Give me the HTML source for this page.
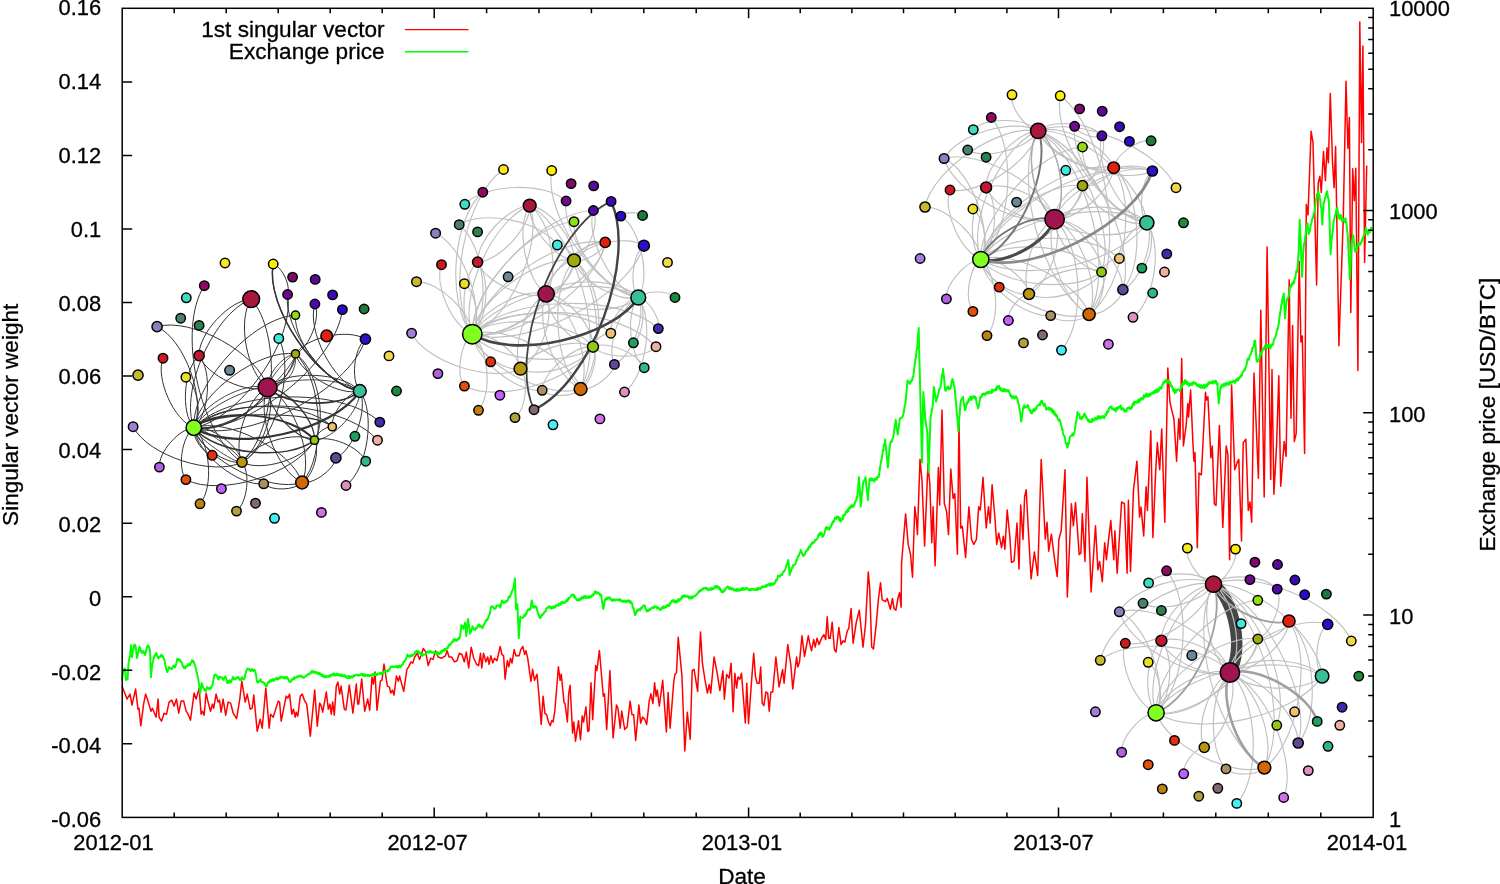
<!DOCTYPE html><html><head><meta charset="utf-8"><title>Singular vector weight vs exchange price</title>
<style>html,body{margin:0;padding:0;background:#fff}svg{display:block}text{font-family:"Liberation Sans",Arial,Helvetica,sans-serif;font-size:22.6px;fill:#000;stroke:#000;stroke-width:0.3px}</style></head><body>
<svg width="1500" height="884" viewBox="0 0 1500 884">
<rect width="1500" height="884" fill="#fff"/>
<g id="series">
<polyline points="122,686.1 127,699.1 130,694.1 132,705.1 135.6,689.1 138,709.2 139,708.2 140.8,725.8 143.6,704.1 145.6,694.1 148,701.1 151,711.2 152.4,708.2 156.1,717.2 158.1,699.1 159.1,717.2 161.5,721.2 164.1,713.2 166.5,714.2 169.1,702.1 171.7,700.1 174.1,706.1 176.5,699.1 178.7,713.2 181.1,701.1 183.7,701.1 186.1,711.2 188.1,714.2 190.5,720.2 194.1,693.1 196.1,699.1 199.1,688.1 201.1,714.2 202.5,711.2 204.1,715.2 206.1,693.1 208.1,702.1 210.5,711.2 212.5,704.1 213.7,708.2 216.1,694.1 218.1,702.1 219.5,700.1 221.1,712.2 223.1,699.1 225.7,715.2 228.2,702.1 230.6,703.1 233.2,713.2 236.6,718.6 239.8,699.1 241.8,681.1 245.2,702.1 247.2,694.1 250.2,709.2 252.2,708.2 253.8,695.1 257.2,731.2 260.2,719.2 262.2,728.2 265.8,688.1 269.2,728.2 270.6,714.2 273.2,717.2 278.2,701.1 279.6,702.1 281.2,721.2 286.2,696.1 287.8,698.1 289.6,694.1 291.8,714.2 293.4,709.2 295.2,717.2 296.2,712.2 297.8,716.2 300.3,696.1 302.3,694.1 304.3,700.1 306.7,704.1 310.3,736.2 314.7,690.1 317.3,726.2 319.7,703.1 321.3,706.1 322.7,712.2 326.3,692.1 328.3,709.2 329.9,704.1 331.3,714.2 332.7,702.1 334.3,715.2 336.3,686.1 337.9,682.1 339.7,694.1 341.1,686.1 344.3,709.2 345.9,710.2 349.3,685.1 352.9,713.2 356.3,684.1 357.7,704.1 358.7,704.1 361.7,679.1 364.7,711.2 367.7,699.1 369.7,710.2 372,677.1 373.4,684.1 375,672.1 377,710.2 380.4,681.1 382,680.1 384,664.1 387.4,686.1 389.4,687.1 390.8,693.1 392.4,690.1 394,695.1 396.4,676.1 398.4,681.1 399.6,676.1 403.7,691.4 406.9,669.3 408.6,666.8 411,661.9 412.8,663.1 414.7,657 417.2,653.3 419.6,659.4 423.3,648.4 425.8,652.1 428.2,665.6 430.7,658.2 433.1,659.4 435.6,650.8 438.1,657 441.7,658.2 445.4,655.8 447.1,650.8 449.1,657 451.6,657 454.5,661.9 457,660.7 459.4,653.3 461.9,654.5 464.3,661.9 466.3,652.1 468.7,668 471.2,647.2 473.7,658.2 476.6,664.3 478.6,665.6 480.5,653.3 481.8,668 483.5,653.3 485.9,661.9 487.7,657 489.1,664.3 490.8,655.8 492.8,663.1 494.5,658.2 497,660.7 500.2,646.4 501.9,654.5 503.6,655.8 505.1,679.1 507.3,660.7 508.8,666.8 510.5,658.2 512,663.1 514.2,649.6 515.9,655.8 519.1,655.8 520.8,649.6 522.8,646.4 524.7,654.5 526,650.8 527.7,658.2 530.9,681.5 532.6,669.3 534.5,680.3 537,674.2 538.7,692.6 541.2,724.5 543.1,696.3 544.9,713.4 546.6,714.7 548.5,722 550.3,725.7 551.7,720.8 553,722 554.7,712.2 558.4,666.8 560.1,680.3 561.3,674.2 564,702.4 565,703.6 567.4,722 568.7,693.8 570.1,685.2 572.6,733.1 573.8,722 575.5,741.2 578.5,720.8 580.5,739.7 582.2,715.9 583.6,722 585.9,706.8 587.8,731.4 589,730.6 591,682.8 592.7,719.6 595.7,665.6 596.9,670.5 599.4,650.4 603.3,696.3 604.5,693.8 606.7,729.4 609.9,670.5 613.1,738 616.5,704.9 618,708.5 620.2,728.2 621.7,711 624.7,729.4 627.1,727 630.1,701.2 632,714.7 633.7,714.7 635.7,740.5 638.9,704.9 640.6,723.3 642.6,717.1 644.8,719.6 646.7,724.5 649.2,701.2 650.9,693.8 652.9,703.6 654.6,682.8 656.1,696.3 657.3,690.1 659.3,706.1 662.7,680.3 666.4,731.9 668.1,692.6 670.1,728.2 673.8,681.5 675,674.2 676.5,672.9 678.2,637.3 681.9,675.4 684.8,751 687.3,712.2 690.2,739.2 692.2,670.5 694.1,669.3 697.6,691.4 700.5,632.1 702.4,663.2 704.9,679.4 707.4,693.1 709.2,684.4 710.7,693.1 714.1,657 717.4,674.4 719.9,690.6 722.9,670.7 724.4,699.3 726.6,674.4 729.1,678.2 731.1,663.2 733.1,711.8 734.8,673.2 736.6,688.1 738,676.9 739.8,679.4 741.5,673.2 745.3,723 746.8,683.2 748.5,723.7 751.5,681.9 753.7,653.3 755.5,676.9 757.2,683.2 759.2,683.2 760.7,667 762.2,703.1 763.9,705.6 765.9,691.9 767.7,693.1 769.2,711.3 770.9,691.9 772.7,691.9 775.9,657 779.1,686.9 782.6,669.5 784.1,683.2 787.8,644.6 790.8,664.5 792.8,688.9 796.6,657 797.8,667 799.5,662 802,635.8 804.5,656.5 808.3,635.8 810,644.6 811.5,650.8 813.7,639.6 815.2,647.1 817,638.3 819,644.6 821.5,638.3 823.9,634.6 825.7,639.6 827.2,616.7 828.7,638.3 830.2,638.3 832.2,622.2 834.4,649.5 836.1,652 838.9,627.6 841.1,644.6 843.1,640.8 844.9,642.1 847.3,630.9 848.8,628.4 851.1,608.5 853.1,643.3 856.3,622.2 859.3,610.2 863,647.1 865.5,624.6 868.3,571.9 869.7,588.5 871.7,647.1 873.5,649 876.2,624.6 878.5,598.5 880.5,582.8 882.2,599.8 885.4,601.7 887.2,598.5 890.4,609.2 892.4,598.5 894.1,608.5 895.9,610.2 897.9,598.5 899.6,592.8 901.1,607.2 901.6,562.5 905.6,513.9 908.2,544.4 910.5,554.3 912.5,577.2 914.8,506.7 916.4,519.8 917.4,534.6 920,459.2 922,480.5 924.6,546.1 927.9,464.1 929.8,483.8 931.8,542.8 933.1,506.7 935.1,565.7 938.4,467.4 939.7,505.1 942,410 944.3,503.4 946.6,511.6 948.5,534.6 950.8,469 953.1,498.5 954.8,493.6 957.4,554.3 959,422.1 960.7,528 962.3,526.4 965.6,557.5 968.9,506.7 971.5,539.5 973.8,544.4 976.4,539.5 978.7,506.7 980.3,510 983,477.2 986.2,528 988.5,506.7 990.2,523.1 992.1,484.8 995.1,519.8 996.7,544.4 998.7,533 1001.6,547.7 1003.3,536.2 1004.9,549.3 1007.2,510 1009.8,536.2 1011.5,562.5 1014.1,560.8 1017,523.1 1019,569 1020.7,505.1 1023,539.5 1024.6,496.9 1026.2,489.7 1028.5,533 1031.1,578.9 1034.4,552 1037.7,575.6 1041.2,459.5 1045.3,539.3 1047,522.3 1048.7,551.2 1051.4,534.2 1054.4,558 1057.2,576.6 1058.9,539.3 1061.2,530.8 1065,469.7 1067.3,597 1071.4,503.7 1073.4,525.7 1075.5,502.6 1079.2,554.6 1080.9,552.9 1082.3,513.8 1085,561.4 1087,477.2 1091.1,591.9 1095.5,525.7 1097.9,569.9 1099.6,561.4 1102.3,581.7 1104.7,542.7 1106.4,559.7 1108.8,537.6 1110.8,520.6 1113.8,559.7 1114.9,530.8 1117.2,573.3 1121.6,502 1124.4,503.7 1127.1,573.3 1128.4,500.3 1130.5,571.6 1133.5,490.1 1136.9,461.2 1139.6,517.2 1141,507.1 1143.7,535.9 1146.1,486.7 1147.4,510.5 1150.8,430.7 1152.9,537.6 1155.6,473.1 1157.3,442.6 1159.7,469.7 1161.7,429 1164.8,522.3 1167.8,367.9 1169.9,401.8 1172.6,413.7 1173.9,418.8 1176.6,461.2 1178.7,418.8 1180,439.2 1181.7,358.4 1183.4,446 1186.1,425.6 1187.8,403.5 1188.5,417.1 1190.6,390 1192.9,442.6 1194,461.2 1195,452.7 1197.3,547.8 1199,473.1 1201.4,474.8 1205.5,392.3 1206.5,400.1 1207.9,396.7 1210.9,457.8 1212.3,446 1214.3,503.7 1216,505.4 1219.4,425.6 1222.8,527.4 1226.2,446 1227.9,454.4 1229.6,559.7 1231.6,384.9 1234.7,469.7 1237.7,461.2 1238.8,459.5 1241.5,541 1243.2,442.6 1245.9,439.2 1248.3,510.5 1250,502 1251.7,522.3 1254,373 1258.4,478.2 1260.8,310.2 1264.2,496.9 1267.1,247 1270.7,479.4 1272,369.5 1273.9,494.3 1276.6,444.1 1278.8,375.7 1280.7,486.2 1284.2,441.4 1286.1,456.3 1289.2,279.8 1291,418.3 1292.6,325.5 1294.3,441.4 1296.2,433.3 1299.2,261.3 1300.9,342.1 1302.3,336.1 1304.6,453.6 1306.3,204.4 1308,215 1311.1,131.2 1313,142.6 1316.6,285 1318.2,183 1319.9,176.3 1321.3,192.5 1323.5,151.4 1325.4,180.6 1327,147.8 1328.4,162.8 1330.3,93.4 1332.5,161.6 1334.1,187.7 1335.6,146.6 1338.9,345.7 1343.2,221 1346,81.3 1347.9,148.5 1349.4,117.6 1350.8,312.4 1352.7,168.7 1354.3,200.8 1355.8,168.3 1357.9,370.6 1359.8,21.9 1361.5,142.6 1362.9,45.9 1364.6,262.5 1366.7,165.6" fill="none" stroke="#ff0000" stroke-width="1.5" stroke-linejoin="round" stroke-linecap="butt"/>
<polyline points="122,680.1 122.5,676.4 123.1,672.6 123.6,670.1 124.1,670.1 124.5,668.4 125,669.1 125.5,674.7 126,680.1 126.5,679.5 127.1,678.4 127.6,679.1 128.4,664.1 128.9,661.4 129.5,657.6 130,656.1 130.5,650.4 131,645.1 131.5,650 132,657.1 132.5,653.1 133,650.9 133.5,648.9 134,645.1 134.6,644.5 135.1,645.1 135.6,646.1 136.1,650.4 136.6,655.2 137,658.1 137.5,656 138,653.3 138.5,652.5 139,649.1 139.5,647 140,647.1 140.6,649.9 141.1,650.6 141.6,653.1 142.1,651.7 142.6,651.2 143.1,651.1 143.6,651.1 144.1,653.2 144.6,653 145,655.1 145.5,653.3 146,651.4 146.5,648.8 147,647.1 147.5,646.8 148,645.3 148.4,646.1 149,646.7 149.5,648.7 150,651.1 150.5,664.5 151,677.1 151.5,671.4 152,666.1 152.5,663.4 153,661.8 153.5,659.2 154,657.1 154.5,655.6 155,655.8 155.5,654.6 156.1,653.1 156.6,653.7 157.1,655.8 157.6,656.9 158.1,658.1 158.6,658.5 159.1,657.6 159.6,656.1 160.1,656.1 160.6,657 161.1,654.7 161.6,655.1 162.1,655.1 162.6,656.7 163.1,656.2 163.6,658.1 164.1,659.1 164.6,660.3 165.1,664.2 165.7,666.1 166.1,668.7 166.6,670.3 167.1,672.1 167.6,671.8 168.1,669.2 168.6,668.8 169.1,667.1 169.6,667.8 170.1,668.3 170.6,668.5 171.1,669.1 171.6,669.2 172.1,668.7 172.6,666.8 173.1,666.1 173.6,666.7 174.1,665.5 174.6,667.3 175.1,667.1 175.6,665.4 176.1,664.3 176.6,661.9 177.1,659.1 177.6,658.8 178.1,659.3 178.6,660.2 179.1,660.1 179.6,659.4 180.1,661 180.6,660.8 181.1,662.1 181.6,662.4 182.1,663.4 182.6,666.3 183.2,666 183.7,668.1 184.2,667.3 184.7,667.4 185.1,668.4 185.6,666.3 186.1,667.1 186.6,666.2 187.1,665.7 187.6,665.8 188.1,664.1 188.6,665.1 189.1,665.5 189.6,664.3 190.1,665.1 190.6,663.6 191.1,662.2 191.6,662.3 192.1,660.1 192.6,661.9 193.1,660.7 193.6,661.6 194.1,663.1 194.6,663.9 195.1,665.5 195.6,667.6 196.1,669.1 196.6,672 197.2,673.9 197.7,677.1 198.2,678.3 198.6,681.6 199.1,684.1 199.6,688.3 200.1,693.1 200.6,690 201.2,687.5 201.7,683.1 202.2,684.9 202.6,685.8 203.1,687.1 203.6,688.4 204.1,689.5 204.6,689.1 205.1,691.1 205.6,691.1 206.1,689.8 206.6,689 207.1,687.1 207.6,688.3 208.1,687.9 208.6,688.4 209.1,689.1 209.6,687.9 210.1,688.9 210.6,687.3 211.1,688.1 211.6,686.1 212.1,685.4 212.5,685.1 213.1,681.3 213.6,678.7 214.1,676.1 214.6,674.8 215.1,674.4 215.6,674.5 216.1,675.1 216.6,675.2 217.1,676.8 217.6,677 218.1,679.1 218.6,679.5 219.1,678.4 219.6,676.8 220.1,677.1 220.6,676.8 221.1,677.4 221.6,677.8 222.1,677.5 222.6,679.6 223.1,679.1 223.7,679.9 224.2,678.2 224.7,677.9 225.2,676.5 225.7,677.1 226.2,678.2 226.7,680.7 227.2,683.1 227.7,682.1 228.2,682.9 228.7,680.8 229.2,681.1 229.7,680.2 230.2,682.7 230.7,681.9 231.2,682.1 231.7,680 232.2,679.7 232.7,677.2 233.2,677.1 233.7,677.7 234.2,679.3 234.7,679.5 235.2,679.1 235.7,679.2 236.2,677.9 236.7,677.8 237.2,677 237.7,678.1 238.2,677.1 238.7,677.9 239.2,679.3 239.7,679 240.2,680.1 240.7,678.7 241.2,679.4 241.7,679 242.2,677.1 242.7,678.5 243.2,678.8 243.7,679.4 244.2,679.1 244.7,677.7 245.2,674.4 245.7,673.1 246.2,671.1 246.7,670.3 247.2,669 247.7,668.5 248.2,669.1 248.7,668.8 249.2,669 249.7,670.3 250.2,670.1 250.7,670.9 251.2,669.5 251.7,670.4 252.2,669.1 252.7,670.6 253.2,670.9 253.7,669.8 254.2,669.8 254.7,670.1 255.2,671.1 255.7,673.1 256.2,675.9 256.7,679.7 257.2,682.1 257.7,682.7 258.2,682.3 258.7,681.1 259.2,681.1 259.7,681.2 260.2,680.1 260.7,679.4 261.2,681.2 261.7,682.1 262.2,682.1 262.7,682.4 263.2,682.1 263.7,682.7 264.2,682.7 264.7,684.8 265.2,684.4 265.7,686.2 266.2,686.1 266.7,686.3 267.2,683.9 267.7,682.9 268.2,682.1 268.7,682.9 269.2,682.2 269.7,680.6 270.2,680.2 270.7,680 271.2,681.6 271.7,681.1 272.2,680.1 272.7,679.1 273.2,680.6 273.7,680.9 274.2,680 274.7,679.1 275.2,679.5 275.7,678.4 276.2,679.1 276.7,677.7 277.2,679.7 277.7,678.7 278.2,678.2 278.7,678.9 279.2,677.4 279.7,678.3 280.2,677.1 280.7,678 281.2,676.7 281.7,676.9 282.2,677.1 282.7,677.1 283.2,678.1 283.7,677.4 284.2,678.1 284.7,677.7 285.2,676.9 285.7,678.6 286.2,677.1 286.7,677.2 287.2,677.1 287.7,678.1 288.2,679.7 288.7,679.4 289.2,681.4 289.7,681.3 290.2,682.1 290.7,681.7 291.2,681.2 291.7,679.5 292.2,680 292.7,678.9 293.2,679.1 293.7,677.6 294.2,679.2 294.7,677.3 295.2,677.7 295.7,678 296.2,677.1 296.7,677.1 297.2,676.4 297.7,676.8 298.2,676.7 298.8,677.2 299.3,675.4 299.8,676.4 300.3,676.1 300.8,675.6 301.3,675.8 301.8,677.1 302.3,676.6 302.8,676.9 303.3,677.5 303.8,678 304.3,677.1 304.8,676.6 305.3,676.6 305.8,676 306.3,675.6 306.8,675.7 307.3,674.7 307.8,674.6 308.3,674.1 308.8,673.7 309.3,674.4 309.8,673.5 310.3,673.5 310.8,673.3 311.3,671.3 311.8,671.6 312.3,671.1 312.8,672.5 313.3,672.6 313.8,671.2 314.3,671.5 314.8,672.6 315.3,673.1 315.8,672.1 316.3,672.5 316.8,672.1 317.3,673.5 317.8,673.8 318.3,673.1 318.8,674.3 319.3,672.8 319.8,674.4 320.3,674.5 320.8,673.5 321.3,675.5 321.8,676 322.3,675.1 322.8,674.7 323.3,676.7 323.8,675.6 324.3,676.1 324.8,677.5 325.3,677.4 325.8,676 326.3,677.1 326.8,676.8 327.3,676.9 327.8,676.3 328.3,675.9 328.8,676 329.3,676.9 329.8,675.1 330.3,676.1 330.8,676 331.3,675.5 331.8,674.2 332.3,674.7 332.8,675.2 333.3,674.6 333.8,673.3 334.3,674.1 334.8,675.4 335.3,675 335.8,675.6 336.3,673.7 336.8,674.2 337.3,673.7 337.8,675.6 338.3,675.1 338.8,674.6 339.3,674.2 339.8,674.9 340.3,676.1 340.8,675.9 341.3,674.5 341.8,674.3 342.3,675.1 342.8,676.4 343.3,675.8 343.8,676.3 344.3,675.1 344.8,675.3 345.3,677.1 345.8,676.7 346.3,677.1 346.8,676.1 347.3,678.2 347.8,677.4 348.3,677.8 348.8,676.1 349.3,678 349.8,676.1 350.3,677.1 350.8,677.9 351.3,676.7 351.8,676.3 352.3,676.7 352.8,677.5 353.3,675.8 353.8,675.3 354.3,676.1 354.8,676.1 355.3,675.3 355.7,674.9 356.2,675 356.6,674.6 357.1,674.9 357.6,675.1 358,675 358.5,676 358.9,674.8 359.4,675.3 359.9,674.4 360.3,675.1 360.8,674.7 361.3,673.9 361.7,674.5 362.2,673.9 362.6,675.7 363.1,675.2 363.6,674.4 364,675 364.5,676.1 365,674.2 365.4,675.9 365.9,674.9 366.3,675.1 366.8,675.1 367.3,675.9 367.7,674.8 368.2,675.1 368.7,675.6 369.1,676.3 369.6,674.7 370,675.9 370.5,675.6 371,675.4 371.4,674.9 371.9,674.7 372.4,675.1 372.8,674 373.3,674.1 373.7,673.8 374.2,675.4 374.7,674.1 375.1,673.8 375.6,673.6 376.1,675.3 376.5,675.3 377,674.7 377.4,673.7 377.9,673.6 378.4,674.1 378.8,673.5 379.3,673.7 379.7,672.8 380.2,673.4 380.7,672.8 381.1,674.3 381.6,674.2 382.1,673 382.5,672.1 383,673.7 383.4,672 383.9,671.9 384.4,672.1 384.9,670.8 385.4,671.6 385.9,671.7 386.4,671.6 386.9,670.8 387.4,671.4 387.9,670 388.4,671.1 388.9,669.9 389.4,668.8 389.9,668.9 390.4,667.3 390.9,666.6 391.4,667.1 391.9,666.5 392.4,666.2 392.9,666.9 393.4,666.7 393.9,667.1 394.4,666.7 394.9,666.7 395.4,666.1 395.9,667.1 396.4,666.1 396.9,666.1 397.4,667.8 397.9,665.9 398.4,667.4 398.9,667.3 399.4,667.1 399.9,665.5 400.4,667 400.9,666.7 401.4,665.6 401.9,665.4 402.5,664.3 402.9,664.4 403.4,662 403.9,662.2 404.4,661.4 404.9,660.7 405.4,660.2 405.9,658.9 406.4,657.8 406.9,656 407.4,654.5 407.9,656 408.3,655.9 408.8,656.5 409.3,655.8 409.8,657 410.3,655.5 410.7,655.5 411.2,655.7 411.7,654.8 412.1,656.3 412.6,655.3 413,655.1 413.5,654.5 414,654.4 414.4,654 414.9,653.1 415.3,651.5 415.8,652.9 416.3,652.4 416.7,651.3 417.2,650.8 417.6,651.4 418.1,652.1 418.6,651.2 419,653.3 419.5,652.5 419.9,652.6 420.4,653.5 420.9,654.5 421.3,655.1 421.8,653.8 422.3,655.1 422.7,655.7 423.2,654.5 423.6,654.2 424.1,654.5 424.6,654.5 425,654.7 425.5,654.6 425.9,653.9 426.4,653.6 426.9,652 427.3,651.8 427.8,651.8 428.2,652.1 428.7,652.7 429.2,651.6 429.6,652.2 430.1,650.9 430.5,651 431,651.5 431.5,652.5 431.9,652.1 432.4,652.7 432.8,652.8 433.3,652 433.8,652.7 434.2,652.8 434.7,652.9 435.1,652.2 435.6,653.3 436.1,654.2 436.5,652.6 437,654.4 437.4,654.3 437.9,652.1 438.4,653.2 438.8,654.1 439.3,653.3 439.7,654.1 440.2,652.6 440.7,651.8 441.1,651.4 441.6,652.8 442,650.8 442.5,651.3 443,650.8 443.4,649.7 443.9,650.3 444.3,651 444.8,648.7 445.3,650.1 445.7,649 446.2,649.6 446.6,648.4 447.1,648.4 447.6,646.8 448,648 448.5,646.5 449,644.9 449.4,644.4 449.9,645.1 450.3,644.7 450.8,644 451.3,643 451.7,642 452.2,641.9 452.6,641.2 453.1,641.8 453.6,639.2 454,639.8 454.5,640.4 454.9,640.6 455.4,638.9 455.9,640.8 456.3,640.3 456.8,640.8 457.2,639.3 457.7,639.8 458.2,638.8 458.7,638.1 459.2,638.8 459.7,637.1 460.2,636.1 460.8,630.3 461.4,625.1 461.9,625.8 462.4,626.4 462.9,626.7 463.3,628.7 463.9,625.7 464.5,625.5 465.1,622.6 465.7,628.8 466.3,636.1 466.9,631.4 467.4,624.1 468,618.9 468.5,622 469,626.3 469.5,629.2 470,633.7 470.5,631.9 471,631.8 471.4,630.2 471.9,628.5 472.4,626.3 472.9,627.3 473.4,628.8 473.9,629.6 474.4,629.4 474.9,630 475.3,629.9 475.8,627.7 476.3,628.7 476.7,627.4 477.2,627.5 477.6,626.6 478.1,625.2 478.6,625.1 479,624.3 479.5,626.7 479.9,625.1 480.4,626.2 480.9,626.2 481.3,626.4 481.8,627.8 482.2,627.5 482.7,627.9 483.2,625.4 483.6,625.6 484.1,624 484.6,623.8 485,622.7 485.5,621.3 485.9,621.4 486.4,619.8 486.9,619.2 487.4,620.1 487.9,618.4 488.4,617.7 488.9,615.2 489.4,615 489.9,613.4 490.4,610.2 490.8,607.6 491.3,606.6 491.8,606.3 492.2,606.4 492.7,607.3 493.2,607.1 493.6,607.8 494.1,608.2 494.5,609.1 495,608.5 495.5,608.6 496,607.5 496.5,605.9 497,605.4 497.4,605.4 497.9,605.8 498.4,605.6 498.8,605.6 499.3,605.1 499.7,605.8 500.2,607.6 500.7,606.6 501.3,602.7 501.9,600.5 502.4,601 502.9,601.8 503.4,602.9 503.9,601.8 504.3,603 504.8,602 505.3,601.4 505.7,601.3 506.2,601 506.6,601.8 507.1,601 507.6,600.6 508,599.3 508.5,597.3 509,596.5 509.5,597.3 510,597 510.5,595.1 511,594.4 511.5,593.4 512,590.7 512.4,590.4 512.9,589.5 513.4,587.7 513.9,584.7 514.4,582 514.9,578.4 515.5,594.9 516.1,609.1 516.7,606 517.4,604.2 517.8,614.5 518.3,626 518.8,638.1 519.3,630.9 519.8,624.1 520.3,616.5 520.8,617.8 521.3,617.6 521.8,617.7 522.3,617.7 522.8,617.9 523.3,616.8 523.7,616.6 524.2,615 524.7,616.3 525.2,615.2 525.7,613.6 526.2,614.3 526.7,612.6 527.2,610.8 527.7,610.3 528.2,609.2 528.7,609.3 529.1,610 529.6,610 530.1,608.4 530.6,609.1 531.2,603.8 531.8,600.5 532.3,603 532.8,605.6 533.3,607.9 533.8,607.4 534.3,606.8 534.8,607.5 535.3,605.9 535.8,606.4 536.3,606.6 536.7,608.1 537.2,610.9 537.6,611.7 538.1,613.9 538.5,614.5 539,615.5 539.5,617.7 539.9,616.7 540.4,618 540.9,617 541.4,615.6 541.9,614.5 542.4,615.2 542.9,614.5 543.4,614.2 543.9,612.8 544.4,611.7 544.9,611.6 545.3,611.3 545.8,611.4 546.2,609.1 546.7,608 547.2,608.1 547.6,607.7 548.1,607.7 548.5,606.6 549,606.1 549.5,607.7 549.9,607.7 550.4,607.3 550.8,606.7 551.3,608.7 551.8,607.3 552.2,607.9 552.7,608.4 553.2,606.7 553.7,606.5 554.2,607.5 554.7,606.2 555.2,607.5 555.7,606.1 556.2,605.2 556.6,605 557.1,605.4 557.6,605 558.1,605.3 558.6,605.8 559.1,603.6 559.6,603.9 560.1,603.3 560.6,604.8 561.1,602.6 561.6,602.1 562,603 562.5,601.7 563,602.2 563.5,603.2 564,602.9 564.5,602.3 565,602.7 565.5,602.3 566,600.6 566.5,600 567,600.5 567.4,601.1 567.9,600.2 568.3,598 568.8,599.1 569.3,597.9 569.7,597.4 570.2,596.9 570.6,596.8 571.1,595.5 571.6,594.7 572.1,594.8 572.6,594.5 573.1,594.4 573.6,596.2 574.1,594.9 574.6,597.7 575.1,596.6 575.5,598.1 576,598.2 576.5,599.8 577,600.3 577.5,599.9 578,600.5 578.5,599.1 578.9,599.8 579.4,599.3 579.8,600.3 580.3,598.2 580.8,598.3 581.2,599.3 581.7,598.1 582.2,596.8 582.7,597.6 583.2,598.4 583.6,598.2 584.1,596.3 584.6,596.2 585.1,596.1 585.6,598.1 586.1,596.4 586.6,596.8 587.1,597.4 587.6,597.8 588.1,596.4 588.6,596.3 589,597.9 589.5,597.1 590,596.3 590.5,597.3 591,596.4 591.5,596.8 592,595.7 592.4,594.4 592.9,595.6 593.3,595.4 593.8,594.1 594.3,594.2 594.7,591.4 595.2,591.9 595.6,591.4 596.1,592.2 596.6,593.5 597,593.6 597.5,592.4 597.9,592.2 598.4,592.8 598.9,593.1 599.4,593.6 599.9,595.2 600.3,593.9 600.8,595.8 601.3,595.6 601.8,599.5 602.3,603.1 602.8,606.4 603.3,609.1 603.9,606.1 604.4,602.1 605,599.3 605.5,598.7 605.9,598.6 606.4,599.5 606.8,597.7 607.3,597.8 607.8,599 608.2,597.6 608.7,598.1 609.2,597.3 609.7,597.4 610.2,598.9 610.7,598.6 611.1,600.4 611.6,600.4 612.1,600.9 612.6,599.5 613.1,599.3 613.6,600.5 614.1,599.4 614.6,600.3 615.1,600.6 615.6,599.9 616.1,599.3 616.5,599.6 617,599.9 617.5,599.9 618,600 618.5,599.3 619,600.4 619.5,600.2 620,599.1 620.5,601.1 621,600 621.5,600.9 621.9,600.7 622.4,601.8 622.9,600.8 623.4,601.7 623.9,601 624.4,600.9 624.9,600.5 625.4,602.2 625.9,601.3 626.4,600.6 626.9,600.6 627.4,601.9 627.8,600.7 628.3,600.5 628.8,600.2 629.3,601.9 629.7,601.8 630.2,602.9 630.6,601.1 631.1,602.3 631.6,603.4 632,603 632.5,605.8 633,608.1 633.5,608 634,610.7 634.5,612.3 635,615.2 635.5,613.3 635.9,613.9 636.4,611.8 636.9,610.3 637.4,611.2 637.8,609.7 638.3,610.7 638.8,609.6 639.2,609 639.7,610.1 640.1,610.3 640.6,609.1 641.1,607.7 641.5,608.4 642,608 642.5,606.6 642.9,606.5 643.4,605.5 643.8,605.2 644.3,605.4 644.8,606.1 645.3,608.1 645.8,609.5 646.3,609.6 646.7,611.6 647.2,610.1 647.7,610.5 648.1,611.1 648.6,609.6 649,609.6 649.5,609 650,610.1 650.4,609.1 650.9,609 651.4,607.6 651.9,607.4 652.4,607.9 652.9,608 653.4,608 653.9,606.4 654.4,606.3 654.8,607.4 655.3,606.6 655.8,606.7 656.3,606.6 656.8,606.9 657.3,608.7 657.8,607.4 658.3,608.3 658.8,608 659.3,608.4 659.8,609.7 660.3,609.1 660.7,610.1 661.2,608.3 661.7,607.6 662.2,608.7 662.7,607.2 663.2,606.4 663.7,608.3 664.2,607 664.7,607.7 665.2,606.6 665.6,606.3 666.1,607.3 666.5,606.1 667,605.2 667.5,604.7 667.9,605.9 668.4,605.9 668.8,605.4 669.3,605.8 669.8,603.2 670.2,603.9 670.7,602.7 671.1,602.4 671.6,600.9 672.1,600.6 672.5,600.5 673,600.7 673.4,601.8 673.9,600 674.4,601.1 674.8,602 675.3,602.6 675.7,600.9 676.2,601.7 676.7,600.5 677.1,602.2 677.6,602 678.1,600.5 678.5,599.1 679,600.9 679.4,599.3 679.9,599.3 680.4,599.8 680.8,598.7 681.3,598.7 681.7,596.6 682.2,597.7 682.7,595.9 683.1,595.8 683.6,595.6 684,596.6 684.5,596.7 685,595.3 685.4,595.5 685.9,596.1 686.3,596.6 686.8,596.4 687.3,596.8 687.7,596.1 688.2,596.5 688.6,597.8 689.1,598.4 689.6,596.5 690,597.9 690.5,598.5 690.9,598.1 691.4,596.7 692,598.4 692.5,596.4 693,597.3 693.5,596.9 694,596.8 694.5,595.8 695,596 695.5,595.3 696,595.2 696.5,594.3 697,594.4 697.5,593.5 697.9,592.9 698.4,592.4 698.9,591 699.3,591.9 699.8,591.2 700.3,590.1 700.7,590.9 701.2,589.8 701.7,590.3 702.1,589.4 702.6,588.6 703.1,589.1 703.5,588.1 704,588 704.5,588.5 704.9,588.5 705.4,587.7 705.9,588.7 706.3,589 706.8,588.1 707.3,589.7 707.7,588.5 708.2,590.2 708.7,589.8 709.1,590.3 709.6,589.5 710.1,588.3 710.5,589.2 711,588.7 711.5,589.9 711.9,587.8 712.4,588.5 712.9,589.1 713.3,589.1 713.8,588.2 714.3,588.1 714.7,586.3 715.2,587.8 715.7,586.3 716.1,586.1 716.6,587.4 717.1,587.6 717.6,586 718.1,587.7 718.6,587.3 719.1,589 719.6,587.5 720,588.8 720.5,590.4 721,589.6 721.4,592 721.9,591.1 722.4,592.3 722.9,592.5 723.4,590.4 723.9,590.8 724.4,591.3 724.9,589.8 725.4,588.6 725.9,588.2 726.3,588.3 726.8,587.4 727.3,587.3 727.8,586.3 728.3,586.9 728.7,587 729.2,589 729.7,588.5 730.1,589.2 730.6,587.6 731.1,588.5 731.5,589.4 732,587.9 732.5,589.1 732.9,589.5 733.4,589 733.9,590.4 734.3,589.8 734.8,589.8 735.3,590 735.7,590.7 736.2,588.8 736.6,591 737.1,590.1 737.5,589.5 738,590.5 738.4,589.2 738.9,591 739.3,590 739.8,589.8 740.2,589.3 740.7,590.2 741.2,589.3 741.6,588.6 742.1,589.8 742.5,588 743,589.8 743.4,588.3 743.9,589.1 744.3,589.8 744.8,588.5 745.2,588.9 745.7,589.2 746.1,588.4 746.6,587.8 747,588 747.5,588.4 747.9,589.6 748.4,589.3 748.8,589.6 749.3,590.6 749.8,589.8 750.2,588.9 750.7,589.1 751.1,590.2 751.6,588.6 752,588.6 752.5,589.4 752.9,588.8 753.4,589.4 753.8,589.1 754.3,590 754.7,589.8 755.2,589.9 755.6,588.9 756.1,589.8 756.5,589.3 757,588.3 757.4,590.2 757.9,588.4 758.4,588 758.8,587.8 759.3,589 759.7,588.5 760.2,589.2 760.6,588.8 761.1,587.6 761.5,587.1 762,586.2 762.4,587.5 762.9,587.1 763.3,586.4 763.8,586.9 764.2,586.1 764.7,586.1 765.1,587 765.6,586.4 766,585.1 766.5,586.6 767,584.4 767.4,585.5 767.9,585 768.3,584.5 768.8,584 769.2,585.6 769.7,584.8 770.1,583.5 770.6,584.7 771,585.5 771.5,583.5 771.9,583.5 772.4,584.4 772.8,584 773.3,584.2 773.7,584.5 774.2,582.9 774.6,583.6 775.1,582.2 775.6,581.2 776,579.7 776.5,580.8 777,579.6 777.4,578.5 777.9,575.8 778.4,576.1 778.8,576.8 779.3,576.4 779.8,575.5 780.2,576.1 780.7,575.2 781.2,574.5 781.6,574.1 782.1,574.9 782.6,573.3 783,571.9 783.5,571.7 784,571.7 784.4,570.7 784.9,570.1 785.4,568.8 785.8,567.4 786.3,565.3 786.8,564.5 787.3,562.8 787.8,562.1 788.3,559.9 789,567.4 789.6,574.9 790.1,572.8 790.6,572.2 791.1,571.5 791.6,568.2 792.1,567.4 792.6,567.8 793.1,565.2 793.6,565.3 794.1,564.8 794.6,564.9 795,564.4 795.5,563.8 796,562.2 796.4,560.1 796.9,560.4 797.4,557.9 797.8,556.6 798.3,556.2 798.8,555.9 799.3,554 799.8,552.9 800.3,551.6 800.8,550 801.3,552.3 801.8,552.3 802.3,554.3 802.8,555.2 803.3,555.9 803.7,556.1 804.2,554.3 804.7,554.3 805.2,553.3 805.6,551.9 806.1,551 806.6,551 807,550.6 807.5,548.7 808,550 808.5,547.5 809,546.6 809.5,546.1 810,547.4 810.5,545.4 811,544.2 811.5,544.4 812,542.8 812.5,542.3 813,543.4 813.4,542.8 813.9,542.4 814.4,542 814.9,539.9 815.4,540.7 815.9,539.7 816.4,539.5 816.9,539.3 817.3,538.4 817.8,537.6 818.3,534.7 818.7,535.7 819.2,534.9 819.7,533 820.1,535 820.6,532.5 821.1,533.3 821.5,533.4 822,533.6 822.5,537 823,536.2 823.4,536.2 823.9,534.4 824.4,533.9 824.8,532 825.3,529.6 825.8,527.8 826.2,528 826.7,526.8 827.2,529.4 827.6,527.7 828.1,528.3 828.6,528.9 829,527.7 829.5,529.7 830,527.6 830.4,526.5 830.9,526.9 831.4,524.5 831.9,523.2 832.3,524.3 832.8,521.5 833.3,521 833.8,521.8 834.3,520.4 834.8,517.8 835.2,518.7 835.7,518.3 836.2,519 836.7,517 837.2,517.8 837.7,516.6 838.2,517.4 838.6,516.9 839.1,520 839.6,517.9 840,521.2 840.5,519.6 841,521.5 841.5,518.7 841.9,518.5 842.4,519.6 842.9,519.4 843.3,515 843.8,515.8 844.3,514.9 844.8,514.2 845.2,514.7 845.7,511.8 846.2,512.3 846.7,511.1 847.2,512.2 847.7,509.5 848.2,511.3 848.7,508.2 849.2,508.4 849.7,507 850.2,508.4 850.7,507.4 851.1,505.6 851.6,507.2 852.1,504.9 852.6,507.1 853.1,506.4 853.6,506.4 854.1,505.1 854.6,504.4 855,502.2 855.5,501.2 856,500 856.4,500.6 856.9,496.6 857.4,496.9 857.9,491.7 858.5,482.1 859,477.2 859.6,486 860.1,496 860.7,506.7 861.1,503.6 861.6,497.5 862,492.5 862.5,489.7 863,483.8 863.5,481.5 864,481 864.5,479.9 865,479.4 865.6,477.2 866,482.7 866.5,486.9 867,490.4 867.4,494.9 867.9,500.2 868.4,491.8 869,487.2 869.5,478.9 870,479.6 870.5,480.1 870.9,478.2 871.4,479.4 871.9,480.7 872.3,480.2 872.8,478.8 873.3,480.2 873.8,480.5 874.3,481.6 874.8,478.9 875.2,478.4 875.7,478.5 876.2,479.6 876.7,479.8 877.2,477 877.7,476.6 878.2,476.6 878.7,477.2 879.2,473.5 879.6,471.2 880.1,466.9 880.6,464.4 881,460.9 881.5,460.7 882,455.9 882.4,454.4 882.9,449.8 883.4,450.5 883.8,445.1 884.3,443.8 884.8,443.6 885.2,439.5 885.8,446.1 886.3,451.5 886.8,456 887.3,460.7 887.9,467.4 888.3,463.3 888.8,456.8 889.2,452.5 889.7,448.6 890.2,444.4 890.6,441.6 891.1,441.7 891.6,442 892,440.4 892.5,438.6 893,437.9 893.4,436.2 893.9,432.8 894.4,428.4 894.8,426.8 895.3,422.8 895.7,419.8 896.2,424.4 896.7,428.7 897.2,430.6 897.7,434.6 898.2,431.6 898.6,428.9 899.1,424.5 899.5,420.5 900,418.2 900.5,418.5 900.9,418.6 901.4,417.8 901.9,417 902.3,417.1 902.8,416 903.3,414.9 903.7,412.8 904.2,409.5 904.7,406.4 905.1,404.9 905.6,401.8 906.1,395 906.6,390.9 907,386.8 907.5,380.5 908,381.9 908.5,382.3 908.9,381.6 909.4,382.8 909.8,383.8 910.3,382.7 910.8,382.3 911.2,380.6 911.7,380.7 912.2,380.6 912.6,377 913.1,377.2 913.6,374.2 914,371 914.5,366 915,362.8 915.4,359.2 915.9,357.6 916.4,351 916.9,349.5 917.4,346.1 918,335.8 918.7,328 919.2,351.5 919.8,374.4 920.3,395.2 920.9,417.7 921.4,438.6 922,462.5 922.6,427.5 923.3,392 923.8,398.7 924.3,405.9 924.8,411.7 925.2,418.2 925.7,422 926.2,425.9 926.7,428.1 927.2,431.3 927.9,451.5 928.5,472.3 929,460.4 929.5,444.2 930,432.4 930.5,418.2 931,415.2 931.4,413.9 931.9,409 932.3,409.4 932.8,405.1 933.3,395.5 933.8,387 934.2,388.4 934.7,392.1 935.1,395.5 935.6,397.1 936.1,401.8 936.5,399.9 937,398.2 937.4,397.6 937.9,394.7 938.4,393.6 938.9,390.8 939.4,388.7 939.9,388.6 940.5,387.3 941,383.8 941.5,380.2 942,375.4 942.5,373.8 943,369 943.4,372.9 943.9,376.5 944.3,380.5 944.8,387.1 945.2,390.3 945.7,390.8 946.2,389.5 946.6,388.2 947.1,387.9 947.5,387 948.1,386.4 948.6,389.4 949.1,387.5 949.6,388.9 950.2,388.7 950.6,387.9 951.1,385.9 951.5,382.7 952,380.1 952.5,378.9 952.9,381 953.4,381.4 953.8,386 954.3,386.2 954.8,388.7 955.2,395.7 955.7,399.3 956.2,405.5 956.7,411.6 957.3,417.3 957.8,424.5 958.4,431.3 958.8,424.3 959.3,417.7 959.7,414.4 960.2,406.9 960.7,401.8 961.1,399.9 961.6,399.1 962,398.8 962.5,397.6 963,396.9 963.4,400.7 963.9,404 964.4,406.2 964.9,410 965.4,409.9 965.8,408 966.3,403.5 966.8,404.6 967.2,401.8 967.7,402.8 968.1,401.9 968.6,399.1 969.1,401.1 969.6,399.9 970,397.2 970.5,398.5 971,396.6 971.5,399.8 972,398.6 972.5,397 973,396.3 973.4,396.3 973.9,396.4 974.4,398.2 974.9,396.5 975.4,396.9 975.9,397.9 976.5,402.9 977,404.8 977.5,404.9 978,408.4 978.5,407.5 979,404.2 979.4,402.5 979.9,399.8 980.3,396.9 980.8,397.8 981.3,397 981.7,396.7 982.2,393.9 982.7,395.2 983.1,394.2 983.6,393.6 984.1,394.5 984.6,393.4 985.1,395 985.6,393.8 986.1,392.8 986.6,392.6 987,392.3 987.5,393.6 988,392 988.5,393.6 989,393.2 989.5,391.7 990,392.6 990.5,392.3 991,392.1 991.5,392.9 992,389.5 992.5,392.2 993,390.5 993.4,390.3 993.9,390.2 994.4,390.3 994.9,390.6 995.4,388.6 995.9,388.4 996.4,390 996.9,386.5 997.4,388.2 997.9,387.9 998.4,387 998.9,385.7 999.3,388.1 999.8,388.7 1000.3,389.9 1000.8,388.1 1001.3,390.8 1001.8,389.4 1002.3,389.6 1002.8,391.4 1003.3,390.3 1003.8,388.6 1004.3,391.1 1004.8,390.8 1005.2,389.7 1005.7,391.6 1006.2,389.8 1006.7,390.2 1007.2,390.4 1007.7,391.3 1008.2,390.3 1008.7,390.2 1009.1,392 1009.6,392.9 1010.1,394.3 1010.5,396.2 1011,395.2 1011.5,396.9 1012,398.1 1012.5,396.5 1013,396.9 1013.4,396.1 1013.9,396.9 1014.4,398.6 1014.9,397.4 1015.4,397.9 1015.9,396.3 1016.4,396.9 1016.9,397.9 1017.4,399.4 1018,402.1 1018.5,403.9 1019,405.1 1019.5,409.4 1019.9,410 1020.4,415.7 1020.9,419.6 1021.3,421.5 1021.8,418.7 1022.2,414 1022.7,411.9 1023.1,407.9 1023.6,406.7 1024.1,405.4 1024.6,407.9 1025,406.6 1025.5,406.6 1026,406.9 1026.4,407.1 1026.9,405.8 1027.4,405.7 1027.9,405.1 1028.3,406.7 1028.8,408.1 1029.3,408.9 1029.7,410.4 1030.2,409.9 1030.7,412.7 1031.1,413.3 1031.6,412.6 1032.1,413.2 1032.5,410.4 1033,410.1 1033.5,409.1 1033.9,411.3 1034.4,411.3 1034.9,409.9 1035.3,408.3 1035.8,409.5 1036.3,408.8 1036.7,407.5 1037.2,405.9 1037.7,405.6 1038.1,405.5 1038.6,404.7 1039.1,404.6 1039.5,404.8 1040,405.4 1040.5,401.7 1040.9,403.1 1041.4,400.7 1041.9,401.8 1042.3,401.1 1042.8,404.2 1043.3,404 1043.7,405.8 1044.2,404.7 1044.7,403.8 1045.1,405.7 1045.6,407.1 1046,409 1046.5,409.7 1047,408.6 1047.4,408.7 1047.9,408.6 1048.4,407.7 1048.8,409.8 1049.3,408.4 1049.7,408.3 1050.2,408 1050.7,408.1 1051.1,410.7 1051.6,408.8 1052.1,410.3 1052.5,412.6 1053,410.1 1053.5,413.5 1053.9,411.5 1054.4,411.7 1054.8,414.8 1055.3,413.7 1055.8,416.1 1056.2,414.7 1056.7,414.9 1057.2,417.1 1057.6,418.8 1058.1,419.3 1058.6,420.6 1059.1,420.8 1059.6,419.2 1060.1,421.9 1060.5,422.2 1061,424.9 1061.5,425.9 1062,429.6 1062.5,429.1 1063,433.6 1063.5,434.6 1063.9,435.8 1064.4,435.7 1064.9,437.4 1065.4,441.4 1065.9,443.7 1066.4,442.8 1066.9,445.3 1067.3,447.7 1067.8,446.8 1068.3,443.1 1068.8,443.9 1069.3,440.8 1069.8,437.6 1070.2,437 1070.7,435.8 1071.2,435.8 1071.7,435.1 1072.2,435.7 1072.7,433.5 1073.2,435.6 1073.6,433.8 1074.1,434.1 1074.6,431.4 1075.1,428.2 1075.6,424.3 1076.1,421.1 1076.6,419.4 1077,416.8 1077.5,412 1078,414 1078.5,414.2 1079,414.2 1079.5,414.3 1079.9,418.6 1080.4,418.6 1080.9,418.8 1081.4,419.3 1081.9,416.7 1082.4,417 1082.9,417.6 1083.3,416.4 1083.8,414.8 1084.3,413.7 1084.8,413.8 1085.2,415 1085.7,417.4 1086.2,416.4 1086.6,418.2 1087.1,418.7 1087.6,420.5 1088,421 1088.5,419.9 1088.9,419.6 1089.4,422.2 1089.9,421 1090.3,421.3 1090.8,421.6 1091.3,422.1 1091.7,422.1 1092.2,418.7 1092.6,421.2 1093.1,420.9 1093.6,420.7 1094,419.4 1094.5,418.8 1095,417.8 1095.4,419.8 1095.9,419.4 1096.3,418.9 1096.8,419.5 1097.3,417.3 1097.7,416.2 1098.2,417.8 1098.7,418.5 1099.1,416.2 1099.6,417.1 1100,418 1100.5,418.7 1101,416.2 1101.4,417.5 1101.9,417.7 1102.4,417 1102.8,416.1 1103.3,416.2 1103.8,418 1104.2,418.2 1104.7,417.1 1105.1,416 1105.6,413.8 1106.1,415.4 1106.5,414.4 1107,411.5 1107.5,411.8 1107.9,412.1 1108.4,411.1 1108.8,408.9 1109.3,407.8 1109.8,406.9 1110.2,407.6 1110.7,406.4 1111.2,406.7 1111.6,407 1112.1,409.2 1112.5,408.3 1113,409.3 1113.5,409 1113.9,409.8 1114.4,408.7 1114.9,410.3 1115.3,408.4 1115.8,411.5 1116.2,408.9 1116.7,407.7 1117.2,409.3 1117.6,409.5 1118.1,406.9 1118.6,408.2 1119,407 1119.5,407.3 1120,406.9 1120.4,405.5 1120.9,405.9 1121.3,409.6 1121.8,409.5 1122.3,408.4 1122.7,409 1123.2,408.2 1123.7,410.4 1124.1,409.4 1124.6,411.6 1125,410.3 1125.5,411.1 1126,411.2 1126.4,411.5 1126.9,408.8 1127.4,407.9 1127.8,408.3 1128.3,408.1 1128.7,407.6 1129.2,407.3 1129.7,409 1130.1,408.6 1130.6,409.3 1131.1,407.2 1131.5,408.4 1132,407.6 1132.5,404 1132.9,405.3 1133.4,403.9 1133.8,402.3 1134.3,404.7 1134.8,401.6 1135.2,401.8 1135.7,401.9 1136.2,402 1136.6,403 1137.1,401.8 1137.5,400.7 1138,400.7 1138.5,399.5 1138.9,402.3 1139.4,402.2 1139.9,399.3 1140.3,400.1 1140.8,398 1141.2,398.3 1141.7,398.2 1142.2,399.7 1142.6,399.3 1143.1,398.6 1143.6,395.3 1144,397.5 1144.5,396.7 1144.9,396 1145.4,395 1145.9,396.8 1146.3,393.4 1146.8,393.8 1147.3,396 1147.7,396.6 1148.2,395.7 1148.7,394.3 1149.1,395.4 1149.6,396 1150,393.6 1150.5,395 1151,394.1 1151.4,393.6 1151.9,392.8 1152.4,393.7 1152.8,392.3 1153.3,392.3 1153.7,391.6 1154.2,393.2 1154.7,390.5 1155.1,392.7 1155.6,391.6 1156.1,390.2 1156.5,389.4 1157,392.3 1157.4,389.4 1157.9,391.7 1158.4,391.1 1158.8,390.9 1159.3,387.9 1159.8,388.7 1160.2,387.1 1160.7,388.3 1161.2,388.8 1161.7,387.5 1162.1,385.8 1162.6,384.2 1163.1,382.8 1163.6,383.6 1164.1,381.5 1164.5,381.4 1165,381.9 1165.5,380.2 1165.9,380.5 1166.4,379.9 1166.9,382.2 1167.3,381.7 1167.8,380.2 1168.2,382.8 1168.7,380.6 1169.2,381.5 1169.6,382.1 1170.1,382.1 1170.6,383.4 1171,386.4 1171.5,385.5 1171.9,385.8 1172.4,387.9 1172.9,388.2 1173.3,391.2 1173.8,389.3 1174.3,391.6 1174.7,393.2 1175.2,389.7 1175.7,392.6 1176.1,391.6 1176.6,389.8 1177,390.6 1177.5,389.8 1178,389.5 1178.4,389.2 1178.9,389.6 1179.4,390 1179.8,390.9 1180.3,390.2 1180.7,389.2 1181.2,385.4 1181.7,385.3 1182.1,386.8 1182.6,383 1183.1,384.6 1183.5,382.3 1184,384 1184.4,381.5 1184.9,380 1185.4,383.2 1185.8,381.8 1186.3,381.4 1186.8,381.2 1187.2,384.5 1187.7,383.7 1188.1,382.8 1188.6,384 1189.1,386 1189.5,384.9 1190,383.7 1190.5,384.8 1190.9,383.1 1191.4,383.1 1191.9,385.1 1192.3,384.7 1192.8,382.7 1193.2,382.1 1193.7,382 1194.2,383.7 1194.6,383.2 1195.1,383.5 1195.6,383 1196,383 1196.5,384.8 1196.9,385.5 1197.4,386.1 1197.9,385.6 1198.3,384.6 1198.8,384.4 1199.3,387.1 1199.7,386.6 1200.2,386.2 1200.6,387.4 1201.1,385 1201.6,387.7 1202,386 1202.5,387.8 1203,387.9 1203.4,386.5 1203.9,384.8 1204.4,388 1204.8,386.6 1205.3,386.2 1205.7,387.3 1206.2,384.8 1206.7,384.2 1207.1,386.2 1207.6,384.2 1208.1,383.2 1208.5,383.6 1209,384.1 1209.4,381.7 1209.9,383.2 1210.4,383.1 1210.8,382.7 1211.3,382.8 1211.8,381.2 1212.2,383.2 1212.7,383.4 1213.1,383.4 1213.6,381.3 1214.1,382.5 1214.5,381.2 1215,381.5 1215.5,382.7 1215.9,380.6 1216.4,383.8 1216.9,384.5 1217.4,383.2 1217.8,389.9 1218.3,396.8 1218.7,403.5 1219.2,399.4 1219.7,395.2 1220.3,389.1 1220.8,386.6 1221.3,388.1 1221.7,385.2 1222.2,384.8 1222.7,384.4 1223.2,384.7 1223.7,386.6 1224.2,383.5 1224.7,383.6 1225.2,384.9 1225.6,385.4 1226.1,383.5 1226.6,382.7 1227,384.6 1227.5,384.4 1228,384 1228.4,384.5 1228.9,382.2 1229.3,384.8 1229.8,384.1 1230.3,383.2 1230.7,381.4 1231.2,381.5 1231.7,382.7 1232.1,382.5 1232.6,381.6 1233,380.9 1233.5,381.7 1234,380.6 1234.4,382.1 1234.9,382.9 1235.4,381.5 1235.8,379.7 1236.3,380.8 1236.8,381 1237.2,378.4 1237.7,380.3 1238.1,380.3 1238.6,377.8 1239.1,377.5 1239.5,378.5 1240,376.9 1240.5,376.4 1240.9,375.3 1241.4,376.5 1241.9,375.2 1242.4,372.9 1242.9,371.8 1243.4,371.4 1243.8,371.3 1244.3,369.6 1244.8,370.1 1245.3,368 1245.8,367 1246.3,365.1 1246.8,363.8 1247.2,361.1 1247.7,358.5 1248.2,359.2 1248.7,359.8 1249.2,358.8 1249.7,355.3 1250.2,354.9 1250.6,354.3 1251.1,353.8 1251.5,351.4 1252,351.1 1252.4,347.7 1252.9,348.3 1253.4,347.5 1253.9,345.3 1254.5,340.7 1255.1,340.7 1255.6,345.8 1256.2,356.6 1256.7,361.1 1257.2,361.7 1257.7,361.8 1258.1,359.7 1258.6,359.9 1259.1,359.6 1259.5,358.9 1260,356.3 1260.5,352.9 1261,354.7 1261.5,351.7 1262,352.5 1262.5,349.3 1263.1,349.4 1263.6,348 1264,349.6 1264.5,347.7 1265,345.4 1265.5,346.2 1265.9,345.7 1266.5,345.5 1267,348.2 1267.5,345.1 1268,345.4 1268.5,347.2 1269,344.9 1269.5,346.8 1270,347 1270.5,348.4 1271,345.9 1271.5,344.4 1272.1,345 1272.6,345 1273.1,344.5 1273.5,341.4 1274,339.8 1274.5,338.4 1275,337.8 1275.4,337.3 1275.9,335.2 1276.4,333 1276.9,331.1 1277.3,328.7 1277.8,329 1278.3,325.9 1278.8,324 1279.2,319.6 1279.7,316 1280.2,312.4 1280.7,310.3 1281.2,305.2 1281.6,304.8 1282.1,300.8 1282.6,298.1 1283.2,296 1283.8,293.4 1284.4,306.4 1285,318.3 1285.5,312.6 1286.1,306.3 1286.6,301.7 1287.1,299.3 1287.6,298 1288,298.2 1288.5,296.9 1289,294 1289.5,292.6 1289.9,287.5 1290.4,286.7 1290.9,285.1 1291.4,286.6 1291.8,283.3 1292.3,284.6 1292.8,284.1 1293.3,283.9 1293.7,281.2 1294.2,282.9 1294.7,277.9 1295.2,278.5 1295.6,275.6 1296.1,272.1 1296.6,269.9 1297.1,272 1297.5,268.4 1298.1,259.8 1298.7,251.8 1299.2,233.6 1299.7,219.7 1300.3,232.8 1300.9,247 1301.5,261.6 1302.1,276.7 1302.5,268.8 1303,256.6 1303.5,249.4 1304,243.7 1304.6,242.9 1305.2,236.3 1305.6,234.9 1306.1,229.5 1306.6,227.7 1307.1,225.2 1307.5,223.3 1308.1,229.5 1308.7,234 1309.2,232.4 1309.7,231.5 1310.1,229.3 1310.6,225.6 1311.2,223.4 1311.7,222 1312.3,218.5 1312.8,218.2 1313.2,216.8 1313.7,213.9 1314.2,212.6 1314.7,209.6 1315.3,204.9 1315.8,199.5 1316.4,199.5 1317,193.8 1317.5,193.6 1318,195.6 1318.5,191.8 1318.9,195.7 1319.4,194.8 1319.9,198.4 1320.4,201.3 1320.8,206.8 1321.3,207.8 1321.8,216.5 1322.3,224.5 1322.7,216.5 1323.2,210.8 1323.7,201.9 1324.2,202.1 1324.8,199.2 1325.4,197.1 1325.9,194.6 1326.5,192.9 1327,191.2 1327.5,193.7 1328,197.6 1328.4,198.2 1328.9,201.9 1329.5,218.8 1330,237 1330.6,254.2 1331.1,247.7 1331.5,241.4 1332,236.3 1332.6,232.6 1333.1,227.7 1333.7,220.9 1334.1,219.4 1334.6,217.7 1335.1,214.9 1335.6,215 1336.1,211.6 1336.7,208.5 1337.2,207.8 1337.8,211.7 1338.3,215.3 1338.9,218.5 1339.4,215.6 1339.8,218.8 1340.3,215 1340.8,215 1341.3,218.1 1341.7,219.5 1342.2,221.6 1342.7,220.9 1343.3,219.1 1343.8,219.7 1344.4,219.7 1344.9,222.1 1345.5,218.1 1346,220.9 1346.5,222.9 1347,229.5 1347.5,233.4 1347.9,237.5 1348.4,249.9 1348.9,259.6 1349.4,268.9 1349.8,279.1 1350.4,269.6 1350.9,255.4 1351.5,243.5 1352,240.8 1352.6,238.8 1353.2,235.2 1353.6,238.8 1354.1,242.8 1354.6,248.1 1355.1,251.8 1355.5,249.9 1356,251.6 1356.5,249.1 1357,247 1357.5,246 1358.1,242.7 1358.6,243.5 1359.2,243.3 1359.7,243.8 1360.3,244.7 1360.8,243.5 1361.2,242 1361.7,242 1362.2,238.7 1362.7,240.1 1363.1,236.9 1363.6,235.8 1364.1,235.2 1364.6,233.4 1365.2,232.8 1365.8,228 1366.3,229.3 1366.9,232.1 1367.4,234 1367.9,234.6 1368.4,230.6 1368.8,230.4 1369.3,230.4 1369.8,232.5 1370.3,231.5 1370.7,229.7 1371.2,227.6 1371.7,229.2" fill="none" stroke="#00ff00" stroke-width="1.95" stroke-linejoin="round" stroke-linecap="butt"/>
</g>
<g id="axes" stroke="#000" stroke-width="1.5" fill="none" stroke-linecap="square">
<rect x="122.2" y="8.3" width="1251.0" height="809.1"/>
<path d="M122.2 81.9h10M122.2 155.4h10M122.2 229h10M122.2 302.5h10M122.2 376.1h10M122.2 449.6h10M122.2 523.2h10M122.2 596.7h10M122.2 670.3h10M122.2 743.8h10M1373.2 756.5h-5M1373.2 720.9h-5M1373.2 695.6h-5M1373.2 676h-5M1373.2 660h-5M1373.2 646.5h-5M1373.2 634.7h-5M1373.2 624.4h-5M1373.2 615.1h-10M1373.2 554.2h-5M1373.2 518.6h-5M1373.2 493.3h-5M1373.2 473.7h-5M1373.2 457.7h-5M1373.2 444.2h-5M1373.2 432.5h-5M1373.2 422.1h-5M1373.2 412.8h-10M1373.2 352h-5M1373.2 316.3h-5M1373.2 291.1h-5M1373.2 271.5h-5M1373.2 255.4h-5M1373.2 241.9h-5M1373.2 230.2h-5M1373.2 219.8h-5M1373.2 210.6h-10M1373.2 149.7h-5M1373.2 114.1h-5M1373.2 88.8h-5M1373.2 69.2h-5M1373.2 53.2h-5M1373.2 39.6h-5M1373.2 27.9h-5M1373.2 17.6h-5M174.2 817.4v-5M174.2 8.3v5M226.2 817.4v-5M226.2 8.3v5M278.2 817.4v-5M278.2 8.3v5M330.2 817.4v-5M330.2 8.3v5M382.2 817.4v-5M382.2 8.3v5M434.2 817.4v-10M434.2 8.3v10M486.6 817.4v-5M486.6 8.3v5M539 817.4v-5M539 8.3v5M591.4 817.4v-5M591.4 8.3v5M643.8 817.4v-5M643.8 8.3v5M696.2 817.4v-5M696.2 8.3v5M748.6 817.4v-10M748.6 8.3v10M800.2 817.4v-5M800.2 8.3v5M851.9 817.4v-5M851.9 8.3v5M903.5 817.4v-5M903.5 8.3v5M955.2 817.4v-5M955.2 8.3v5M1006.9 817.4v-5M1006.9 8.3v5M1058.5 817.4v-10M1058.5 8.3v10M1111 817.4v-5M1111 8.3v5M1163.4 817.4v-5M1163.4 8.3v5M1215.8 817.4v-5M1215.8 8.3v5M1268.3 817.4v-5M1268.3 8.3v5M1320.8 817.4v-5M1320.8 8.3v5" stroke-linecap="butt"/>
</g>
<g id="labels">
<text transform="translate(101.2,15.2) scale(.97,1)" text-anchor="end">0.16</text>
<text transform="translate(101.2,89) scale(.97,1)" text-anchor="end">0.14</text>
<text transform="translate(101.2,162.8) scale(.97,1)" text-anchor="end">0.12</text>
<text transform="translate(101.2,236.7) scale(.97,1)" text-anchor="end">0.1</text>
<text transform="translate(101.2,310.5) scale(.97,1)" text-anchor="end">0.08</text>
<text transform="translate(101.2,384.3) scale(.97,1)" text-anchor="end">0.06</text>
<text transform="translate(101.2,458.1) scale(.97,1)" text-anchor="end">0.04</text>
<text transform="translate(101.2,531.9) scale(.97,1)" text-anchor="end">0.02</text>
<text transform="translate(101.2,605.7) scale(.97,1)" text-anchor="end">0</text>
<text transform="translate(101.2,679.6) scale(.97,1)" text-anchor="end">-0.02</text>
<text transform="translate(101.2,753.4) scale(.97,1)" text-anchor="end">-0.04</text>
<text transform="translate(101.2,827.2) scale(.97,1)" text-anchor="end">-0.06</text>
<text transform="translate(1389,827.2) scale(.97,1)">1</text>
<text transform="translate(1389,624.4) scale(.97,1)">10</text>
<text transform="translate(1389,421.5) scale(.97,1)">100</text>
<text transform="translate(1389,218.6) scale(.97,1)">1000</text>
<text transform="translate(1389,15.8) scale(.97,1)">10000</text>
<text transform="translate(113.5,849.6) scale(.97,1)" text-anchor="middle">2012-01</text>
<text transform="translate(427.6,849.6) scale(.97,1)" text-anchor="middle">2012-07</text>
<text transform="translate(741.9,849.6) scale(.97,1)" text-anchor="middle">2013-01</text>
<text transform="translate(1053.5,849.6) scale(.97,1)" text-anchor="middle">2013-07</text>
<text transform="translate(1367,849.6) scale(.97,1)" text-anchor="middle">2014-01</text>
<text x="742" y="883.5" text-anchor="middle">Date</text>
<text transform="translate(17.5,414.8) rotate(-90)" text-anchor="middle">Singular vector weight</text>
<text transform="translate(1495,414.5) rotate(-90)" text-anchor="middle">Exchange price [USD/BTC]</text>
<text x="384.6" y="36.7" text-anchor="end">1st singular vector</text>
<text x="384.6" y="58.7" text-anchor="end">Exchange price</text>
<path d="M405 29.5H468.5" stroke="#ff0000" stroke-width="1.25"/>
<path d="M405 51.7H468.5" stroke="#00ff00" stroke-width="1.5"/>
</g>
<g id="net1">
<g fill="none" stroke-linecap="butt">
<path d="M242 462.2C213.2 476.9 147.8 455.6 133.1 426.7" stroke="#333333" stroke-width="1.0"/>
<path d="M242 462.2C199.2 434.4 176.6 328.5 204.3 285.7" stroke="#333333" stroke-width="1.0"/>
<path d="M159.4 467.1C158.4 452.3 179 428.7 193.8 427.7" stroke="#333333" stroke-width="1.0"/>
<path d="M185.9 479.6C177.1 467.6 181.9 436.5 193.8 427.7" stroke="#333333" stroke-width="1.0"/>
<path d="M193.8 427.7C210.3 441.7 214 487.4 200 503.8" stroke="#333333" stroke-width="1.0"/>
<path d="M157.1 326.7C184.6 339.5 206.7 400.2 193.8 427.7" stroke="#333333" stroke-width="1.0"/>
<path d="M157.1 326.7C191.3 316.7 257.7 353.1 267.6 387.4" stroke="#333333" stroke-width="1.0"/>
<path d="M193.8 427.7C173.7 420 155.2 378.3 163 358.2" stroke="#333333" stroke-width="1.0"/>
<path d="M193.8 427.7C179.6 390.5 214 313.4 251.2 299.1" stroke="#333333" stroke-width="1.0"/>
<path d="M251.2 299.1C282 333.6 276.5 431.4 242 462.2" stroke="#333333" stroke-width="1.0"/>
<path d="M267.6 387.4C246.7 373 236.9 320.1 251.2 299.1" stroke="#333333" stroke-width="1.0"/>
<path d="M359.8 391C317.1 382.9 265.1 306.7 273.2 264" stroke="#333333" stroke-width="1.0"/>
<path d="M359.8 391C326.1 386.1 282.8 328.3 287.6 294.5" stroke="#333333" stroke-width="1.0"/>
<path d="M273.2 264C282.2 267.2 290.9 285.5 287.6 294.5" stroke="#333333" stroke-width="1.0"/>
<path d="M287.6 294.5C295.5 339.9 239.2 419.9 193.8 427.7" stroke="#333333" stroke-width="1.0"/>
<path d="M193.8 427.7C191.6 384.9 252.7 317.4 295.5 315.2" stroke="#333333" stroke-width="1.0"/>
<path d="M359.8 391C331.8 388.7 293.2 343.2 295.5 315.2" stroke="#333333" stroke-width="1.0"/>
<path d="M314.9 304C321 317.9 309.4 347.8 295.5 353.9" stroke="#333333" stroke-width="1.0"/>
<path d="M359.8 391C333.4 382.6 306.5 330.4 314.9 304" stroke="#333333" stroke-width="1.0"/>
<path d="M342.4 309.6C336.3 363 247.2 433.8 193.8 427.7" stroke="#333333" stroke-width="1.0"/>
<path d="M295.5 353.9C306.5 337 348.5 328.1 365.4 339.2" stroke="#333333" stroke-width="1.0"/>
<path d="M359.8 391C350.6 379.5 353.9 348.4 365.4 339.2" stroke="#333333" stroke-width="1.0"/>
<path d="M365.4 339.2C348.8 391.2 245.8 444.3 193.8 427.7" stroke="#333333" stroke-width="1.0"/>
<path d="M278.8 338.5C296.2 370.6 274.1 444.8 242 462.2" stroke="#333333" stroke-width="1.0"/>
<path d="M193.8 427.7C199.4 392.6 260.4 348.3 295.5 353.9" stroke="#333333" stroke-width="1.0"/>
<path d="M295.5 353.9C289.9 389 228.9 433.3 193.8 427.7" stroke="#333333" stroke-width="1.0"/>
<path d="M359.8 391C339.5 396.4 301 374.2 295.5 353.9" stroke="#333333" stroke-width="1.0"/>
<path d="M295.5 353.9C322.5 378.3 326.5 455.5 302.1 482.5" stroke="#333333" stroke-width="1.0"/>
<path d="M199.1 355.6C212.4 371 209.3 414.3 193.8 427.7" stroke="#333333" stroke-width="1.0"/>
<path d="M193.8 427.7C180.4 412.2 183.6 368.9 199.1 355.6" stroke="#333333" stroke-width="1.0"/>
<path d="M267.6 387.4C247.5 394.7 206.4 375.6 199.1 355.6" stroke="#333333" stroke-width="1.0"/>
<path d="M199.1 355.6C198.2 333.8 229.5 300 251.2 299.1" stroke="#333333" stroke-width="1.0"/>
<path d="M185.9 377.2C197.6 385.7 202.3 416 193.8 427.7" stroke="#333333" stroke-width="1.0"/>
<path d="M263.7 483.8C238.5 486.6 196.6 452.9 193.8 427.7" stroke="#333333" stroke-width="1.0"/>
<path d="M193.8 427.7C229.9 389.4 341.5 386.1 379.8 422.1" stroke="#333333" stroke-width="1.0"/>
<path d="M193.8 427.7C233 393.5 343.3 401 377.5 440.2" stroke="#333333" stroke-width="1.0"/>
<path d="M193.8 427.7C221.3 399.8 304.4 399.3 332.3 426.7" stroke="#333333" stroke-width="1.0"/>
<path d="M314.5 440.2C296.7 473.8 219.5 497.4 185.9 479.6" stroke="#333333" stroke-width="1.0"/>
<path d="M242 462.2C250.7 473.1 247.4 502.4 236.5 511.1" stroke="#333333" stroke-width="1.0"/>
<path d="M335.9 457.9C334 469.6 313.7 484.3 302.1 482.5" stroke="#333333" stroke-width="1.0"/>
<path d="M314.5 440.2C320.5 451.1 313 476.5 302.1 482.5" stroke="#333333" stroke-width="1.0"/>
<path d="M302.1 482.5C276.2 470.4 255.5 413.3 267.6 387.4" stroke="#333333" stroke-width="1.0"/>
<path d="M267.6 387.4C293.5 399.5 314.2 456.6 302.1 482.5" stroke="#333333" stroke-width="1.0"/>
<path d="M302.1 482.5C294.7 490.5 271.6 491.2 263.7 483.8" stroke="#333333" stroke-width="1.0"/>
<path d="M359.8 391C375.9 412.6 367.7 469.3 346 485.5" stroke="#333333" stroke-width="1.0"/>
<path d="M359.8 391C368.4 409.2 354 449.3 335.9 457.9" stroke="#333333" stroke-width="1.0"/>
<path d="M314.5 440.2C329 434.2 359.7 446.8 365.7 461.2" stroke="#333333" stroke-width="1.0"/>
<path d="M314.5 440.2C315.4 434 326 425.9 332.3 426.7" stroke="#333333" stroke-width="1.0"/>
<path d="M332.3 426.7C330.6 414.1 347.1 392.6 359.8 391" stroke="#333333" stroke-width="1.0"/>
<path d="M193.8 427.7C226.4 417 291.4 449.9 302.1 482.5" stroke="#333333" stroke-width="1.0"/>
<path d="M302.1 482.5C269.5 493.2 204.5 460.3 193.8 427.7" stroke="#333333" stroke-width="1.0"/>
<path d="M295.5 353.9C316.6 367.4 328 419.1 314.5 440.2" stroke="#333333" stroke-width="1.0"/>
<path d="M267.6 387.4C277.5 407.5 262.1 452.3 242 462.2" stroke="#333333" stroke-width="1.0"/>
<path d="M242 462.2C232.2 442.1 247.5 397.2 267.6 387.4" stroke="#333333" stroke-width="1.0"/>
<path d="M267.6 387.4C286.8 369.7 342.1 371.8 359.8 391" stroke="#333333" stroke-width="1.0"/>
<path d="M212.2 455.3C203 453.4 192 436.9 193.8 427.7" stroke="#333333" stroke-width="1.0"/>
<path d="M242 462.2C252.1 443.3 295.6 430.1 314.5 440.2" stroke="#333333" stroke-width="1.0"/>
<path d="M314.5 440.2C304.4 459.1 260.9 472.3 242 462.2" stroke="#333333" stroke-width="1.0"/>
<path d="M359.8 391C340.6 408.7 285.3 406.5 267.6 387.4" stroke="#333333" stroke-width="1.0"/>
<path d="M267.6 387.4C260.9 410.2 216.6 434.4 193.8 427.7" stroke="#333333" stroke-width="1.3"/>
<path d="M193.8 427.7C200.5 404.9 244.8 380.7 267.6 387.4" stroke="#333333" stroke-width="0.9"/>
<path d="M267.6 387.4C287.6 388.6 315.7 420.2 314.5 440.2" stroke="#333333" stroke-width="1.3"/>
<path d="M314.5 440.2C294.6 439 266.4 407.3 267.6 387.4" stroke="#333333" stroke-width="1.1"/>
<path d="M193.8 427.7C210.3 425 239.3 445.6 242 462.2" stroke="#333333" stroke-width="1.0"/>
<path d="M242 462.2C225.5 464.9 196.6 444.3 193.8 427.7" stroke="#333333" stroke-width="1.0"/>
<path d="M193.8 427.7C202.1 426.3 240.7 453.9 242 462.2" stroke="#333333" stroke-width="0.9"/>
<path d="M242 462.2C233.8 463.5 195.2 436 193.8 427.7" stroke="#333333" stroke-width="0.9"/>
<path d="M295.5 353.9C296.6 366.2 279.9 386.3 267.6 387.4" stroke="#333333" stroke-width="0.9"/>
<path d="M267.6 387.4C266.5 375.1 283.2 355 295.5 353.9" stroke="#333333" stroke-width="0.9"/>
<path d="M295.5 353.9C296.1 360 273.8 386.8 267.6 387.4" stroke="#333333" stroke-width="0.9"/>
<path d="M267.6 387.4C267.1 381.2 289.4 354.5 295.5 353.9" stroke="#333333" stroke-width="0.9"/>
<path d="M295.5 353.9C297.2 372.3 286 385.7 267.6 387.4" stroke="#333333" stroke-width="0.9"/>
<path d="M193.8 427.7C219.7 387.2 319.3 365.1 359.8 391" stroke="#333333" stroke-width="0.9"/>
<path d="M359.8 391C334 431.5 234.4 453.6 193.8 427.7" stroke="#333333" stroke-width="2.3"/>
<path d="M193.8 427.7C220.5 406.1 292.9 413.6 314.5 440.2" stroke="#333333" stroke-width="2.0"/>
<path d="M314.5 440.2C287.9 461.8 215.5 454.4 193.8 427.7" stroke="#333333" stroke-width="1.5"/>
<path d="M359.8 391C340.6 408.7 285.3 406.5 267.6 387.4" stroke="#333333" stroke-width="1.6"/>
<path d="M359.8 391C360.6 409.9 333.4 439.4 314.5 440.2" stroke="#333333" stroke-width="0.9"/>
<path d="M359.8 391C317.1 382.9 265.1 306.7 273.2 264" stroke="#333333" stroke-width="1.5"/>
<path d="M193.8 427.7C210.3 411 315.5 410.2 332.3 426.7" stroke="#333333" stroke-width="1.2"/>
</g>
<g stroke="#000" stroke-width="1.5">
<circle cx="225" cy="263" r="4.7" fill="#f8e820"/>
<circle cx="273.2" cy="264" r="4.7" fill="#fff000"/>
<circle cx="292.6" cy="277.1" r="4.7" fill="#800a6c"/>
<circle cx="315.2" cy="279.4" r="4.7" fill="#5a0a96"/>
<circle cx="204.3" cy="285.7" r="4.7" fill="#900a60"/>
<circle cx="186.3" cy="297.8" r="4.7" fill="#40dcc0"/>
<circle cx="251.2" cy="299.1" r="8.4" fill="#a8183c"/>
<circle cx="287.6" cy="294.5" r="4.7" fill="#700a8a"/>
<circle cx="332.6" cy="294.9" r="4.7" fill="#3a0ab4"/>
<circle cx="314.9" cy="304" r="4.7" fill="#5008a8"/>
<circle cx="342.4" cy="309.6" r="4.7" fill="#2a0ac8"/>
<circle cx="364.1" cy="309" r="4.7" fill="#1e7a3c"/>
<circle cx="180.7" cy="318.2" r="4.7" fill="#4a8070"/>
<circle cx="199.1" cy="325.4" r="4.7" fill="#2e8050"/>
<circle cx="157.1" cy="326.7" r="5.1" fill="#8a80c0"/>
<circle cx="295.5" cy="315.2" r="4.1" fill="#90e010"/>
<circle cx="278.8" cy="338.5" r="4.7" fill="#40e8e0"/>
<circle cx="326.7" cy="335.9" r="5.8" fill="#e02010"/>
<circle cx="365.4" cy="339.2" r="5.1" fill="#2c10c8"/>
<circle cx="389" cy="355.9" r="4.7" fill="#f0d848"/>
<circle cx="163" cy="358.2" r="4.7" fill="#d01820"/>
<circle cx="199.1" cy="355.6" r="5.1" fill="#c01830"/>
<circle cx="295.5" cy="353.9" r="4.1" fill="#a0a810"/>
<circle cx="229.6" cy="370.3" r="4.8" fill="#6c8898"/>
<circle cx="138" cy="375.2" r="5.1" fill="#c8b830"/>
<circle cx="185.9" cy="377.2" r="4.7" fill="#e8e020"/>
<circle cx="267.6" cy="387.4" r="9.4" fill="#a01450"/>
<circle cx="359.8" cy="391" r="6.4" fill="#38c098"/>
<circle cx="396.5" cy="391" r="4.7" fill="#1e8a3c"/>
<circle cx="193.8" cy="427.7" r="7.7" fill="#80ff20"/>
<circle cx="133.1" cy="426.7" r="4.7" fill="#a080d8"/>
<circle cx="379.8" cy="422.1" r="4.7" fill="#4428b0"/>
<circle cx="332.3" cy="426.7" r="4.1" fill="#f0c070"/>
<circle cx="354.9" cy="436.3" r="4.7" fill="#20a060"/>
<circle cx="377.5" cy="440.2" r="4.7" fill="#f0b0a0"/>
<circle cx="314.5" cy="440.2" r="4.1" fill="#90c818"/>
<circle cx="335.9" cy="457.9" r="5.1" fill="#604898"/>
<circle cx="365.7" cy="461.2" r="4.7" fill="#30b888"/>
<circle cx="212.2" cy="455.3" r="4.7" fill="#e03010"/>
<circle cx="242" cy="462.2" r="5.1" fill="#b89810"/>
<circle cx="159.4" cy="467.1" r="4.7" fill="#b060e0"/>
<circle cx="185.9" cy="479.6" r="4.7" fill="#e05010"/>
<circle cx="221.4" cy="488.7" r="4.7" fill="#c060ff"/>
<circle cx="263.7" cy="483.8" r="4.7" fill="#a89060"/>
<circle cx="302.1" cy="482.5" r="6.4" fill="#d06808"/>
<circle cx="346" cy="485.5" r="4.7" fill="#e090c0"/>
<circle cx="200" cy="503.8" r="4.7" fill="#c08010"/>
<circle cx="236.5" cy="511.1" r="4.7" fill="#b0a040"/>
<circle cx="255.5" cy="503.2" r="4.7" fill="#806878"/>
<circle cx="274.5" cy="518.3" r="4.7" fill="#40f0f8"/>
<circle cx="321.4" cy="512.4" r="4.7" fill="#d070e8"/>
</g></g>
<g id="net2">
<g fill="none" stroke-linecap="butt">
<path d="M520.5 368.7C491.7 383.4 426.3 362.1 411.6 333.2" stroke="#c0c0c0" stroke-width="1.15"/>
<path d="M464.4 386.1C455.6 374.1 460.4 343 472.3 334.2" stroke="#c0c0c0" stroke-width="1.15"/>
<path d="M472.3 334.2C488.8 348.2 492.5 393.9 478.5 410.3" stroke="#c0c0c0" stroke-width="1.15"/>
<path d="M435.6 233.2C463.1 246 485.2 306.7 472.3 334.2" stroke="#c0c0c0" stroke-width="1.15"/>
<path d="M472.3 334.2C452.2 326.5 433.7 284.8 441.5 264.7" stroke="#c0c0c0" stroke-width="1.15"/>
<path d="M472.3 334.2C458.1 297 492.5 219.9 529.7 205.6" stroke="#c0c0c0" stroke-width="1.15"/>
<path d="M529.7 205.6C550.7 220 560.5 272.9 546.1 293.9" stroke="#c0c0c0" stroke-width="1.15"/>
<path d="M546.1 293.9C525.2 279.5 515.4 226.6 529.7 205.6" stroke="#c0c0c0" stroke-width="1.15"/>
<path d="M638.3 297.5C595.6 289.4 543.6 213.2 551.7 170.5" stroke="#c0c0c0" stroke-width="1.15"/>
<path d="M638.3 297.5C604.6 292.6 561.3 234.8 566.1 201" stroke="#c0c0c0" stroke-width="1.15"/>
<path d="M472.3 334.2C470.1 291.4 531.2 223.9 574 221.7" stroke="#c0c0c0" stroke-width="1.15"/>
<path d="M638.3 297.5C610.3 295.2 571.7 249.7 574 221.7" stroke="#c0c0c0" stroke-width="1.15"/>
<path d="M593.4 210.5C599.5 224.4 587.9 254.3 574 260.4" stroke="#c0c0c0" stroke-width="1.15"/>
<path d="M638.3 297.5C611.9 289.1 585 236.9 593.4 210.5" stroke="#c0c0c0" stroke-width="1.15"/>
<path d="M574 260.4C585 243.5 627 234.6 643.9 245.7" stroke="#c0c0c0" stroke-width="1.15"/>
<path d="M638.3 297.5C629.1 286 632.4 254.9 643.9 245.7" stroke="#c0c0c0" stroke-width="1.15"/>
<path d="M643.9 245.7C627.3 297.7 524.3 350.8 472.3 334.2" stroke="#c0c0c0" stroke-width="1.15"/>
<path d="M472.3 334.2C477.9 299.1 538.9 254.8 574 260.4" stroke="#c0c0c0" stroke-width="1.15"/>
<path d="M574 260.4C568.4 295.5 507.4 339.8 472.3 334.2" stroke="#c0c0c0" stroke-width="1.15"/>
<path d="M638.3 297.5C618 302.9 579.5 280.7 574 260.4" stroke="#c0c0c0" stroke-width="1.15"/>
<path d="M477.6 262.1C490.9 277.5 487.8 320.8 472.3 334.2" stroke="#c0c0c0" stroke-width="1.15"/>
<path d="M472.3 334.2C458.9 318.7 462.1 275.4 477.6 262.1" stroke="#c0c0c0" stroke-width="1.15"/>
<path d="M546.1 293.9C526 301.2 484.9 282.1 477.6 262.1" stroke="#c0c0c0" stroke-width="1.15"/>
<path d="M477.6 262.1C476.7 240.3 508 206.5 529.7 205.6" stroke="#c0c0c0" stroke-width="1.15"/>
<path d="M464.4 283.7C476.1 292.2 480.8 322.5 472.3 334.2" stroke="#c0c0c0" stroke-width="1.15"/>
<path d="M542.2 390.3C517 393.1 475.1 359.4 472.3 334.2" stroke="#c0c0c0" stroke-width="1.15"/>
<path d="M472.3 334.2C508.4 295.9 620 292.6 658.3 328.6" stroke="#c0c0c0" stroke-width="1.15"/>
<path d="M472.3 334.2C511.5 300 621.8 307.5 656 346.7" stroke="#c0c0c0" stroke-width="1.15"/>
<path d="M472.3 334.2C499.8 306.3 582.9 305.8 610.8 333.2" stroke="#c0c0c0" stroke-width="1.15"/>
<path d="M593 346.7C575.2 380.3 498 403.9 464.4 386.1" stroke="#c0c0c0" stroke-width="1.15"/>
<path d="M520.5 368.7C529.2 379.6 525.9 408.9 515 417.6" stroke="#c0c0c0" stroke-width="1.15"/>
<path d="M614.4 364.4C612.5 376.1 592.2 390.8 580.6 389" stroke="#c0c0c0" stroke-width="1.15"/>
<path d="M593 346.7C599 357.6 591.5 383 580.6 389" stroke="#c0c0c0" stroke-width="1.15"/>
<path d="M580.6 389C554.7 376.9 534 319.8 546.1 293.9" stroke="#c0c0c0" stroke-width="1.15"/>
<path d="M546.1 293.9C572 306 592.7 363.1 580.6 389" stroke="#c0c0c0" stroke-width="1.15"/>
<path d="M580.6 389C573.2 397 550.1 397.7 542.2 390.3" stroke="#c0c0c0" stroke-width="1.15"/>
<path d="M638.3 297.5C654.4 319.1 646.2 375.8 624.5 392" stroke="#c0c0c0" stroke-width="1.15"/>
<path d="M638.3 297.5C646.9 315.7 632.5 355.8 614.4 364.4" stroke="#c0c0c0" stroke-width="1.15"/>
<path d="M593 346.7C607.5 340.7 638.2 353.3 644.2 367.7" stroke="#c0c0c0" stroke-width="1.15"/>
<path d="M593 346.7C593.9 340.5 604.5 332.4 610.8 333.2" stroke="#c0c0c0" stroke-width="1.15"/>
<path d="M610.8 333.2C609.1 320.6 625.6 299.1 638.3 297.5" stroke="#c0c0c0" stroke-width="1.15"/>
<path d="M472.3 334.2C504.9 323.5 569.9 356.4 580.6 389" stroke="#c0c0c0" stroke-width="1.15"/>
<path d="M580.6 389C548 399.7 483 366.8 472.3 334.2" stroke="#c0c0c0" stroke-width="1.15"/>
<path d="M574 260.4C595.1 273.9 606.5 325.6 593 346.7" stroke="#c0c0c0" stroke-width="1.15"/>
<path d="M546.1 293.9C556 314 540.6 358.8 520.5 368.7" stroke="#c0c0c0" stroke-width="1.15"/>
<path d="M520.5 368.7C510.7 348.6 526 303.7 546.1 293.9" stroke="#c0c0c0" stroke-width="1.15"/>
<path d="M605.2 242.4C603.7 264.5 568.2 295.4 546.1 293.9" stroke="#c0c0c0" stroke-width="1.15"/>
<path d="M546.1 293.9C565.3 276.2 620.6 278.3 638.3 297.5" stroke="#c0c0c0" stroke-width="1.15"/>
<path d="M472.3 334.2C480.5 289.3 560.2 234.2 605.2 242.4" stroke="#c0c0c0" stroke-width="1.15"/>
<path d="M520.5 368.7C530.6 349.8 574.1 336.6 593 346.7" stroke="#c0c0c0" stroke-width="1.15"/>
<path d="M593 346.7C582.9 365.6 539.4 378.8 520.5 368.7" stroke="#c0c0c0" stroke-width="1.15"/>
<path d="M644.2 367.7C629 354.8 625.4 312.7 638.3 297.5" stroke="#c0c0c0" stroke-width="1.15"/>
<path d="M638.3 297.5C619.1 315.2 563.8 313 546.1 293.9" stroke="#c0c0c0" stroke-width="1.15"/>
<path d="M574 260.4C575.1 272.7 558.4 292.8 546.1 293.9" stroke="#c0c0c0" stroke-width="1.15"/>
<path d="M546.1 293.9C545 281.6 561.7 261.5 574 260.4" stroke="#c0c0c0" stroke-width="1.15"/>
<path d="M472.3 334.2C479 311.4 523.3 287.2 546.1 293.9" stroke="#c0c0c0" stroke-width="1.15"/>
<path d="M546.1 293.9C539.4 316.7 495.1 340.9 472.3 334.2" stroke="#c0c0c0" stroke-width="1.15"/>
<path d="M472.3 334.2C488.8 331.5 517.8 352.1 520.5 368.7" stroke="#c0c0c0" stroke-width="1.15"/>
<path d="M520.5 368.7C504 371.4 475.1 350.8 472.3 334.2" stroke="#c0c0c0" stroke-width="1.15"/>
<path d="M546.1 293.9C566.1 295.1 594.2 326.7 593 346.7" stroke="#c0c0c0" stroke-width="1.15"/>
<path d="M593 346.7C573.1 345.5 544.9 313.8 546.1 293.9" stroke="#c0c0c0" stroke-width="1.15"/>
<path d="M472.3 334.2C498.2 293.7 597.8 271.6 638.3 297.5" stroke="#c0c0c0" stroke-width="1.15"/>
<path d="M638.3 297.5C612.5 338 512.9 360.1 472.3 334.2" stroke="#c0c0c0" stroke-width="1.15"/>
<path d="M472.3 334.2C499 312.6 571.4 320.1 593 346.7" stroke="#c0c0c0" stroke-width="1.15"/>
<path d="M593 346.7C566.4 368.3 494 360.9 472.3 334.2" stroke="#c0c0c0" stroke-width="1.15"/>
<path d="M464.8 204.3C484.4 183.4 545.2 181.4 566.1 201" stroke="#c0c0c0" stroke-width="1.15"/>
<path d="M459.2 224.7C482.9 209.1 541.7 221.3 557.3 245" stroke="#c0c0c0" stroke-width="1.15"/>
<path d="M472.3 334.2C445.6 295.1 464.3 196.2 503.5 169.5" stroke="#c0c0c0" stroke-width="1.15"/>
<path d="M416.5 281.7C438.2 281.1 471.7 312.6 472.3 334.2" stroke="#c0c0c0" stroke-width="1.15"/>
<path d="M472.3 334.2C446 303.7 452.3 218.5 482.8 192.2" stroke="#c0c0c0" stroke-width="1.15"/>
<path d="M638.3 297.5C645.7 290.1 667.7 290.1 675 297.5" stroke="#c0c0c0" stroke-width="1.15"/>
<path d="M620.9 216.1C625.1 211.7 638.1 211.3 642.6 215.5" stroke="#c0c0c0" stroke-width="1.15"/>
<path d="M605.2 242.4C597 287.3 517.3 342.4 472.3 334.2" stroke="#c0c0c0" stroke-width="1.15"/>
<path d="M574 260.4C601 284.8 605 362 580.6 389" stroke="#c0c0c0" stroke-width="1.15"/>
<path d="M580.6 389C553.5 364.6 549.6 287.4 574 260.4" stroke="#c0c0c0" stroke-width="1.15"/>
<path d="M529.7 205.6C544 242.8 509.5 320 472.3 334.2" stroke="#c0c0c0" stroke-width="1.15"/>
<path d="M529.7 205.6C549.5 207.7 576.1 240.6 574 260.4" stroke="#c0c0c0" stroke-width="1.15"/>
<path d="M574 260.4C554.2 258.3 527.6 225.4 529.7 205.6" stroke="#c0c0c0" stroke-width="1.15"/>
<path d="M605.2 242.4C602.5 252.2 583.9 263 574 260.4" stroke="#c0c0c0" stroke-width="1.15"/>
<path d="M574 260.4C576.6 250.6 595.3 239.7 605.2 242.4" stroke="#c0c0c0" stroke-width="1.15"/>
<path d="M638.3 297.5C646.4 307.5 643.4 334.7 633.4 342.8" stroke="#c0c0c0" stroke-width="1.15"/>
<path d="M656 346.7C643.4 359.3 605.6 359.3 593 346.7" stroke="#c0c0c0" stroke-width="1.15"/>
<path d="M638.3 297.5C648.5 299.7 660.5 318.4 658.3 328.6" stroke="#c0c0c0" stroke-width="1.15"/>
<path d="M529.7 205.6C530.6 227.3 499.3 261.2 477.6 262.1" stroke="#c0c0c0" stroke-width="1.15"/>
<path d="M472.3 334.2C471.8 285.3 544.4 211.1 593.4 210.5" stroke="#c0c0c0" stroke-width="1.15"/>
<path d="M620.9 216.1C640.7 228.9 651.1 277.7 638.3 297.5" stroke="#c0c0c0" stroke-width="1.15"/>
<path d="M529.7 205.6C576.6 232.1 607.1 342.2 580.6 389" stroke="#c0c0c0" stroke-width="1.15"/>
<path d="M557.3 245C563.7 244.7 573.7 254 574 260.4" stroke="#c0c0c0" stroke-width="1.15"/>
<path d="M546.1 293.9C547.6 271.8 583.1 240.9 605.2 242.4" stroke="#c0c0c0" stroke-width="1.15"/>
<path d="M614.4 364.4C605.8 346.2 620.1 306.1 638.3 297.5" stroke="#c0c0c0" stroke-width="1.15"/>
<path d="M542.2 390.3C543.6 371.4 574.1 345.2 593 346.7" stroke="#c0c0c0" stroke-width="1.15"/>
<path d="M459.2 224.7C483.7 243.9 491.6 309.7 472.3 334.2" stroke="#c0c0c0" stroke-width="1.15"/>
<path d="M638.3 297.5C612.5 338 512.9 360.1 472.3 334.2" stroke="#444444" stroke-width="2.6"/>
<path d="M534 409.7C507.7 352.6 554 227.6 611.1 201.4" stroke="#444444" stroke-width="1.8"/>
<path d="M611.1 201.4C637.3 258.4 591.1 383.4 534 409.7" stroke="#444444" stroke-width="2.4"/>
</g>
<g stroke="#000" stroke-width="1.5">
<circle cx="503.5" cy="169.5" r="4.7" fill="#f8e820"/>
<circle cx="551.7" cy="170.5" r="4.7" fill="#fff000"/>
<circle cx="571.1" cy="183.6" r="4.7" fill="#800a6c"/>
<circle cx="593.7" cy="185.9" r="4.7" fill="#5a0a96"/>
<circle cx="482.8" cy="192.2" r="4.7" fill="#900a60"/>
<circle cx="464.8" cy="204.3" r="4.7" fill="#40dcc0"/>
<circle cx="529.7" cy="205.6" r="6.4" fill="#a8183c"/>
<circle cx="566.1" cy="201" r="4.7" fill="#700a8a"/>
<circle cx="611.1" cy="201.4" r="4.7" fill="#3a0ab4"/>
<circle cx="593.4" cy="210.5" r="4.7" fill="#5008a8"/>
<circle cx="620.9" cy="216.1" r="4.7" fill="#2a0ac8"/>
<circle cx="642.6" cy="215.5" r="4.7" fill="#1e7a3c"/>
<circle cx="459.2" cy="224.7" r="4.7" fill="#4a8070"/>
<circle cx="477.6" cy="231.9" r="4.7" fill="#2e8050"/>
<circle cx="435.6" cy="233.2" r="4.8" fill="#8a80c0"/>
<circle cx="574" cy="221.7" r="4.7" fill="#90e010"/>
<circle cx="557.3" cy="245" r="4.7" fill="#40e8e0"/>
<circle cx="605.2" cy="242.4" r="5.1" fill="#e02010"/>
<circle cx="643.9" cy="245.7" r="5.5" fill="#2c10c8"/>
<circle cx="667.5" cy="262.4" r="4.7" fill="#f0d848"/>
<circle cx="441.5" cy="264.7" r="4.7" fill="#d01820"/>
<circle cx="477.6" cy="262.1" r="5.1" fill="#c01830"/>
<circle cx="574" cy="260.4" r="6.4" fill="#a0a810"/>
<circle cx="508.1" cy="276.8" r="4.7" fill="#6c8898"/>
<circle cx="416.5" cy="281.7" r="4.8" fill="#c8b830"/>
<circle cx="464.4" cy="283.7" r="4.7" fill="#e8e020"/>
<circle cx="546.1" cy="293.9" r="8.1" fill="#a01450"/>
<circle cx="638.3" cy="297.5" r="7.4" fill="#38c098"/>
<circle cx="675" cy="297.5" r="4.7" fill="#1e8a3c"/>
<circle cx="472.3" cy="334.2" r="9.7" fill="#80ff20"/>
<circle cx="411.6" cy="333.2" r="4.7" fill="#a080d8"/>
<circle cx="658.3" cy="328.6" r="4.7" fill="#4428b0"/>
<circle cx="610.8" cy="333.2" r="4.7" fill="#f0c070"/>
<circle cx="633.4" cy="342.8" r="4.7" fill="#20a060"/>
<circle cx="656" cy="346.7" r="4.7" fill="#f0b0a0"/>
<circle cx="593" cy="346.7" r="5.5" fill="#90c818"/>
<circle cx="614.4" cy="364.4" r="4.7" fill="#604898"/>
<circle cx="644.2" cy="367.7" r="4.7" fill="#30b888"/>
<circle cx="490.7" cy="361.8" r="4.7" fill="#e03010"/>
<circle cx="520.5" cy="368.7" r="6.4" fill="#b89810"/>
<circle cx="437.9" cy="373.6" r="4.7" fill="#b060e0"/>
<circle cx="464.4" cy="386.1" r="4.7" fill="#e05010"/>
<circle cx="499.9" cy="395.2" r="4.7" fill="#c060ff"/>
<circle cx="542.2" cy="390.3" r="4.7" fill="#a89060"/>
<circle cx="580.6" cy="389" r="6.4" fill="#d06808"/>
<circle cx="624.5" cy="392" r="4.7" fill="#e090c0"/>
<circle cx="478.5" cy="410.3" r="4.7" fill="#c08010"/>
<circle cx="515" cy="417.6" r="4.7" fill="#b0a040"/>
<circle cx="534" cy="409.7" r="4.7" fill="#806878"/>
<circle cx="553" cy="424.8" r="4.7" fill="#40f0f8"/>
<circle cx="599.9" cy="418.9" r="4.7" fill="#d070e8"/>
</g></g>
<g id="net3">
<g fill="none" stroke-linecap="butt">
<path d="M972.9 311.4C964.1 299.4 968.9 268.3 980.8 259.5" stroke="#c0c0c0" stroke-width="1.15"/>
<path d="M980.8 259.5C997.3 273.5 1001 319.2 987 335.6" stroke="#c0c0c0" stroke-width="1.15"/>
<path d="M944.1 158.5C971.6 171.3 993.7 232 980.8 259.5" stroke="#c0c0c0" stroke-width="1.15"/>
<path d="M980.8 259.5C960.7 251.8 942.2 210.1 950 190" stroke="#c0c0c0" stroke-width="1.15"/>
<path d="M980.8 259.5C966.6 222.3 1001 145.2 1038.2 130.9" stroke="#c0c0c0" stroke-width="1.15"/>
<path d="M1038.2 130.9C1059.2 145.3 1069 198.2 1054.6 219.2" stroke="#c0c0c0" stroke-width="1.15"/>
<path d="M1054.6 219.2C1033.7 204.8 1023.9 151.9 1038.2 130.9" stroke="#c0c0c0" stroke-width="1.15"/>
<path d="M1146.8 222.8C1104.1 214.7 1052.1 138.5 1060.2 95.8" stroke="#c0c0c0" stroke-width="1.15"/>
<path d="M1146.8 222.8C1113.1 217.9 1069.8 160.1 1074.6 126.3" stroke="#c0c0c0" stroke-width="1.15"/>
<path d="M980.8 259.5C978.6 216.7 1039.7 149.2 1082.5 147" stroke="#c0c0c0" stroke-width="1.15"/>
<path d="M1146.8 222.8C1118.8 220.5 1080.2 175 1082.5 147" stroke="#c0c0c0" stroke-width="1.15"/>
<path d="M1101.9 135.8C1108 149.7 1096.4 179.6 1082.5 185.7" stroke="#c0c0c0" stroke-width="1.15"/>
<path d="M1146.8 222.8C1120.4 214.4 1093.5 162.2 1101.9 135.8" stroke="#c0c0c0" stroke-width="1.15"/>
<path d="M1082.5 185.7C1093.5 168.8 1135.5 159.9 1152.4 171" stroke="#c0c0c0" stroke-width="1.15"/>
<path d="M1146.8 222.8C1137.6 211.3 1140.9 180.2 1152.4 171" stroke="#c0c0c0" stroke-width="1.15"/>
<path d="M1152.4 171C1135.8 223 1032.8 276.1 980.8 259.5" stroke="#c0c0c0" stroke-width="1.15"/>
<path d="M980.8 259.5C986.4 224.4 1047.4 180.1 1082.5 185.7" stroke="#c0c0c0" stroke-width="1.15"/>
<path d="M1082.5 185.7C1076.9 220.8 1015.9 265.1 980.8 259.5" stroke="#c0c0c0" stroke-width="1.15"/>
<path d="M1146.8 222.8C1126.5 228.2 1088 206 1082.5 185.7" stroke="#c0c0c0" stroke-width="1.15"/>
<path d="M986.1 187.4C999.4 202.8 996.3 246.1 980.8 259.5" stroke="#c0c0c0" stroke-width="1.15"/>
<path d="M980.8 259.5C967.4 244 970.6 200.7 986.1 187.4" stroke="#c0c0c0" stroke-width="1.15"/>
<path d="M1054.6 219.2C1034.5 226.5 993.4 207.4 986.1 187.4" stroke="#c0c0c0" stroke-width="1.15"/>
<path d="M986.1 187.4C985.2 165.6 1016.5 131.8 1038.2 130.9" stroke="#c0c0c0" stroke-width="1.15"/>
<path d="M972.9 209C984.6 217.5 989.3 247.8 980.8 259.5" stroke="#c0c0c0" stroke-width="1.15"/>
<path d="M1050.7 315.6C1025.5 318.4 983.6 284.7 980.8 259.5" stroke="#c0c0c0" stroke-width="1.15"/>
<path d="M980.8 259.5C1008.3 231.6 1091.4 231.1 1119.3 258.5" stroke="#c0c0c0" stroke-width="1.15"/>
<path d="M1122.9 289.7C1121 301.4 1100.7 316.1 1089.1 314.3" stroke="#c0c0c0" stroke-width="1.15"/>
<path d="M1101.5 272C1107.5 282.9 1100 308.3 1089.1 314.3" stroke="#c0c0c0" stroke-width="1.15"/>
<path d="M1089.1 314.3C1063.2 302.2 1042.5 245.1 1054.6 219.2" stroke="#c0c0c0" stroke-width="1.15"/>
<path d="M1054.6 219.2C1080.5 231.3 1101.2 288.4 1089.1 314.3" stroke="#c0c0c0" stroke-width="1.15"/>
<path d="M1089.1 314.3C1081.7 322.3 1058.6 323 1050.7 315.6" stroke="#c0c0c0" stroke-width="1.15"/>
<path d="M1146.8 222.8C1162.9 244.4 1154.7 301.1 1133 317.3" stroke="#c0c0c0" stroke-width="1.15"/>
<path d="M1146.8 222.8C1155.4 241 1141 281.1 1122.9 289.7" stroke="#c0c0c0" stroke-width="1.15"/>
<path d="M1101.5 272C1102.4 265.8 1113 257.7 1119.3 258.5" stroke="#c0c0c0" stroke-width="1.15"/>
<path d="M1119.3 258.5C1117.6 245.9 1134.1 224.4 1146.8 222.8" stroke="#c0c0c0" stroke-width="1.15"/>
<path d="M980.8 259.5C1013.4 248.8 1078.4 281.7 1089.1 314.3" stroke="#c0c0c0" stroke-width="1.15"/>
<path d="M1089.1 314.3C1056.5 325 991.5 292.1 980.8 259.5" stroke="#c0c0c0" stroke-width="1.15"/>
<path d="M1054.6 219.2C1064.5 239.3 1049.1 284.1 1029 294" stroke="#c0c0c0" stroke-width="1.15"/>
<path d="M1029 294C1019.2 273.9 1034.5 229 1054.6 219.2" stroke="#c0c0c0" stroke-width="1.15"/>
<path d="M1113.7 167.7C1112.2 189.8 1076.7 220.7 1054.6 219.2" stroke="#c0c0c0" stroke-width="1.15"/>
<path d="M1054.6 219.2C1073.8 201.5 1129.1 203.6 1146.8 222.8" stroke="#c0c0c0" stroke-width="1.15"/>
<path d="M980.8 259.5C989 214.6 1068.7 159.5 1113.7 167.7" stroke="#c0c0c0" stroke-width="1.15"/>
<path d="M1029 294C1039.1 275.1 1082.6 261.9 1101.5 272" stroke="#c0c0c0" stroke-width="1.15"/>
<path d="M1101.5 272C1091.4 290.9 1047.9 304.1 1029 294" stroke="#c0c0c0" stroke-width="1.15"/>
<path d="M1146.8 222.8C1127.6 240.5 1072.3 238.3 1054.6 219.2" stroke="#c0c0c0" stroke-width="1.15"/>
<path d="M1082.5 185.7C1083.6 198 1066.9 218.1 1054.6 219.2" stroke="#c0c0c0" stroke-width="1.15"/>
<path d="M1054.6 219.2C1053.5 206.9 1070.2 186.8 1082.5 185.7" stroke="#c0c0c0" stroke-width="1.15"/>
<path d="M980.8 259.5C987.5 236.7 1031.8 212.5 1054.6 219.2" stroke="#c0c0c0" stroke-width="1.15"/>
<path d="M1054.6 219.2C1047.9 242 1003.6 266.2 980.8 259.5" stroke="#c0c0c0" stroke-width="1.15"/>
<path d="M980.8 259.5C997.3 256.8 1026.3 277.4 1029 294" stroke="#c0c0c0" stroke-width="1.15"/>
<path d="M1029 294C1012.5 296.7 983.6 276.1 980.8 259.5" stroke="#c0c0c0" stroke-width="1.15"/>
<path d="M1054.6 219.2C1074.6 220.4 1102.7 252 1101.5 272" stroke="#c0c0c0" stroke-width="1.15"/>
<path d="M1101.5 272C1081.6 270.8 1053.4 239.1 1054.6 219.2" stroke="#c0c0c0" stroke-width="1.15"/>
<path d="M980.8 259.5C1006.7 219 1106.3 196.9 1146.8 222.8" stroke="#c0c0c0" stroke-width="1.15"/>
<path d="M1146.8 222.8C1121 263.3 1021.4 285.4 980.8 259.5" stroke="#c0c0c0" stroke-width="1.15"/>
<path d="M980.8 259.5C1007.5 237.9 1079.9 245.4 1101.5 272" stroke="#c0c0c0" stroke-width="1.15"/>
<path d="M1101.5 272C1074.9 293.6 1002.5 286.2 980.8 259.5" stroke="#c0c0c0" stroke-width="1.15"/>
<path d="M1038.2 130.9C1025.8 129 1010 107.3 1012 94.8" stroke="#c0c0c0" stroke-width="1.15"/>
<path d="M1060.2 95.8C1109.7 133.8 1127 264.8 1089.1 314.3" stroke="#c0c0c0" stroke-width="1.15"/>
<path d="M973.3 129.6C986.5 116.9 1025.5 117.7 1038.2 130.9" stroke="#c0c0c0" stroke-width="1.15"/>
<path d="M944.1 158.5C957.4 134.1 1013.9 117.6 1038.2 130.9" stroke="#c0c0c0" stroke-width="1.15"/>
<path d="M925 207C932.5 169.2 1000.4 123.5 1038.2 130.9" stroke="#c0c0c0" stroke-width="1.15"/>
<path d="M925 207C946.7 206.4 980.2 237.9 980.8 259.5" stroke="#c0c0c0" stroke-width="1.15"/>
<path d="M991.3 117.5C1017.6 148 1011.3 233.2 980.8 259.5" stroke="#c0c0c0" stroke-width="1.15"/>
<path d="M1038.2 130.9C1077.1 114.7 1159.8 148.8 1176 187.7" stroke="#c0c0c0" stroke-width="1.15"/>
<path d="M1054.6 219.2C1082.2 244 1086.3 322.5 1061.5 350.1" stroke="#c0c0c0" stroke-width="1.15"/>
<path d="M946.4 298.9C945.4 284.1 966 260.5 980.8 259.5" stroke="#c0c0c0" stroke-width="1.15"/>
<path d="M1113.7 167.7C1115.8 154.8 1138.2 138.7 1151.1 140.8" stroke="#c0c0c0" stroke-width="1.15"/>
<path d="M1113.7 167.7C1091.2 175.4 1046 153.4 1038.2 130.9" stroke="#c0c0c0" stroke-width="1.15"/>
<path d="M1038.2 130.9C1060.7 123.2 1105.9 145.2 1113.7 167.7" stroke="#c0c0c0" stroke-width="1.15"/>
<path d="M1113.7 167.7C1138.1 201.9 1123.3 289.9 1089.1 314.3" stroke="#c0c0c0" stroke-width="1.15"/>
<path d="M1152.4 171C1121.5 185.8 1053 161.8 1038.2 130.9" stroke="#c0c0c0" stroke-width="1.15"/>
<path d="M1054.6 219.2C1064.5 190 1123.2 161 1152.4 171" stroke="#c0c0c0" stroke-width="1.15"/>
<path d="M1038.2 130.9C1027.9 148.8 985.6 160.3 967.7 150" stroke="#c0c0c0" stroke-width="1.15"/>
<path d="M944.1 158.5C978.3 148.5 1044.7 184.9 1054.6 219.2" stroke="#c0c0c0" stroke-width="1.15"/>
<path d="M1054.6 219.2C1020.4 229.1 954 192.7 944.1 158.5" stroke="#c0c0c0" stroke-width="1.15"/>
<path d="M1038.2 130.9C1079.1 146.5 1117.1 231.1 1101.5 272" stroke="#c0c0c0" stroke-width="1.15"/>
<path d="M1038.2 130.9C1085.1 157.4 1115.6 267.5 1089.1 314.3" stroke="#c0c0c0" stroke-width="1.15"/>
<path d="M1089.1 314.3C1042.2 287.8 1011.7 177.8 1038.2 130.9" stroke="#c0c0c0" stroke-width="1.15"/>
<path d="M1038.2 130.9C1086.9 145.8 1137.7 241 1122.9 289.7" stroke="#c0c0c0" stroke-width="1.15"/>
<path d="M1113.7 167.7C1139.9 190.2 1145.4 263.5 1122.9 289.7" stroke="#c0c0c0" stroke-width="1.15"/>
<path d="M1146.8 222.8C1154.9 232.8 1151.9 260 1141.9 268.1" stroke="#c0c0c0" stroke-width="1.15"/>
<path d="M1054.6 219.2C1082.4 219.6 1123.3 262 1122.9 289.7" stroke="#c0c0c0" stroke-width="1.15"/>
<path d="M980.8 259.5C997.4 207.5 1100.4 154.4 1152.4 171" stroke="#c0c0c0" stroke-width="1.15"/>
<path d="M1008.4 320.5C1007.2 311.1 1019.6 295.2 1029 294" stroke="#c0c0c0" stroke-width="1.15"/>
<path d="M1038.2 130.9C1078.3 127.6 1143.5 182.7 1146.8 222.8" stroke="#c0c0c0" stroke-width="1.15"/>
<path d="M1113.7 167.7C1111 177.5 1092.4 188.3 1082.5 185.7" stroke="#c0c0c0" stroke-width="1.15"/>
<path d="M1101.9 135.8C1094.5 139.4 1078.2 133.7 1074.6 126.3" stroke="#c0c0c0" stroke-width="1.15"/>
<path d="M1038.2 130.9C1051.9 119.2 1090.1 122.1 1101.9 135.8" stroke="#c0c0c0" stroke-width="1.15"/>
<path d="M986.1 187.4C1006.1 180 1047.3 199.1 1054.6 219.2" stroke="#c0c0c0" stroke-width="1.15"/>
<path d="M1038.2 130.9C1032.4 160.4 979.4 195.8 950 190" stroke="#c0c0c0" stroke-width="1.15"/>
<path d="M1054.6 219.2C1047.9 242 1003.6 266.2 980.8 259.5" stroke="#4a4a4a" stroke-width="3.0"/>
<path d="M980.8 259.5C987.5 236.7 1031.8 212.5 1054.6 219.2" stroke="#777777" stroke-width="1.8"/>
<path d="M1038.2 130.9C1052.5 168.1 1018 245.3 980.8 259.5" stroke="#777777" stroke-width="2.0"/>
<path d="M1152.4 171C1135.8 223 1032.8 276.1 980.8 259.5" stroke="#8a8a8a" stroke-width="2.7"/>
<path d="M1038.2 130.9C1059.2 145.3 1069 198.2 1054.6 219.2" stroke="#aaaaaa" stroke-width="1.3"/>
<path d="M1054.6 219.2C1033.7 204.8 1023.9 151.9 1038.2 130.9" stroke="#aaaaaa" stroke-width="1.3"/>
</g>
<g stroke="#000" stroke-width="1.5">
<circle cx="1012" cy="94.8" r="4.7" fill="#f8e820"/>
<circle cx="1060.2" cy="95.8" r="4.7" fill="#fff000"/>
<circle cx="1079.6" cy="108.9" r="4.7" fill="#800a6c"/>
<circle cx="1102.2" cy="111.2" r="4.7" fill="#5a0a96"/>
<circle cx="991.3" cy="117.5" r="4.7" fill="#900a60"/>
<circle cx="973.3" cy="129.6" r="4.7" fill="#40dcc0"/>
<circle cx="1038.2" cy="130.9" r="7.7" fill="#a8183c"/>
<circle cx="1074.6" cy="126.3" r="4.7" fill="#700a8a"/>
<circle cx="1119.6" cy="126.7" r="4.7" fill="#3a0ab4"/>
<circle cx="1101.9" cy="135.8" r="4.7" fill="#5008a8"/>
<circle cx="1129.4" cy="141.4" r="4.7" fill="#2a0ac8"/>
<circle cx="1151.1" cy="140.8" r="4.7" fill="#1e7a3c"/>
<circle cx="967.7" cy="150" r="4.7" fill="#4a8070"/>
<circle cx="986.1" cy="157.2" r="4.7" fill="#2e8050"/>
<circle cx="944.1" cy="158.5" r="4.8" fill="#8a80c0"/>
<circle cx="1082.5" cy="147" r="4.7" fill="#90e010"/>
<circle cx="1065.8" cy="170.3" r="4.7" fill="#40e8e0"/>
<circle cx="1113.7" cy="167.7" r="5.8" fill="#e02010"/>
<circle cx="1152.4" cy="171" r="5.1" fill="#2c10c8"/>
<circle cx="1176" cy="187.7" r="4.7" fill="#f0d848"/>
<circle cx="950" cy="190" r="4.7" fill="#d01820"/>
<circle cx="986.1" cy="187.4" r="5.5" fill="#c01830"/>
<circle cx="1082.5" cy="185.7" r="5.1" fill="#a0a810"/>
<circle cx="1016.6" cy="202.1" r="4.7" fill="#6c8898"/>
<circle cx="925" cy="207" r="5.1" fill="#c8b830"/>
<circle cx="972.9" cy="209" r="4.7" fill="#e8e020"/>
<circle cx="1054.6" cy="219.2" r="9.7" fill="#a01450"/>
<circle cx="1146.8" cy="222.8" r="7.1" fill="#38c098"/>
<circle cx="1183.5" cy="222.8" r="4.7" fill="#1e8a3c"/>
<circle cx="980.8" cy="259.5" r="8.1" fill="#80ff20"/>
<circle cx="920.1" cy="258.5" r="4.7" fill="#a080d8"/>
<circle cx="1166.8" cy="253.9" r="4.7" fill="#4428b0"/>
<circle cx="1119.3" cy="258.5" r="4.7" fill="#f0c070"/>
<circle cx="1141.9" cy="268.1" r="4.7" fill="#20a060"/>
<circle cx="1164.5" cy="272" r="4.7" fill="#f0b0a0"/>
<circle cx="1101.5" cy="272" r="4.7" fill="#90c818"/>
<circle cx="1122.9" cy="289.7" r="5.1" fill="#604898"/>
<circle cx="1152.7" cy="293" r="4.7" fill="#30b888"/>
<circle cx="999.2" cy="287.1" r="4.7" fill="#e03010"/>
<circle cx="1029" cy="294" r="5.5" fill="#b89810"/>
<circle cx="946.4" cy="298.9" r="4.7" fill="#b060e0"/>
<circle cx="972.9" cy="311.4" r="4.7" fill="#e05010"/>
<circle cx="1008.4" cy="320.5" r="4.7" fill="#c060ff"/>
<circle cx="1050.7" cy="315.6" r="4.7" fill="#a89060"/>
<circle cx="1089.1" cy="314.3" r="6.1" fill="#d06808"/>
<circle cx="1133" cy="317.3" r="4.7" fill="#e090c0"/>
<circle cx="987" cy="335.6" r="4.7" fill="#c08010"/>
<circle cx="1023.5" cy="342.9" r="4.7" fill="#b0a040"/>
<circle cx="1042.5" cy="335" r="4.7" fill="#806878"/>
<circle cx="1061.5" cy="350.1" r="4.7" fill="#40f0f8"/>
<circle cx="1108.4" cy="344.2" r="4.7" fill="#d070e8"/>
</g></g>
<g id="net4">
<g fill="none" stroke-linecap="butt">
<path d="M1213.5 584.2C1234.5 598.6 1244.3 651.5 1229.9 672.5" stroke="#464646" stroke-width="11.5"/>
<path d="M1119.4 611.8C1146.9 624.6 1169 685.3 1156.1 712.8" stroke="#c0c0c0" stroke-width="1.15"/>
<path d="M1156.1 712.8C1136 705.1 1117.5 663.4 1125.3 643.3" stroke="#c0c0c0" stroke-width="1.15"/>
<path d="M1156.1 712.8C1141.9 675.6 1176.3 598.5 1213.5 584.2" stroke="#c0c0c0" stroke-width="1.15"/>
<path d="M1213.5 584.2C1234.5 598.6 1244.3 651.5 1229.9 672.5" stroke="#c0c0c0" stroke-width="1.15"/>
<path d="M1229.9 672.5C1209 658.1 1199.2 605.2 1213.5 584.2" stroke="#c0c0c0" stroke-width="1.15"/>
<path d="M1156.1 712.8C1153.9 670 1215 602.5 1257.8 600.3" stroke="#c0c0c0" stroke-width="1.15"/>
<path d="M1277.2 589.1C1283.3 603 1271.7 632.9 1257.8 639" stroke="#c0c0c0" stroke-width="1.15"/>
<path d="M1322.1 676.1C1312.9 664.6 1316.2 633.5 1327.7 624.3" stroke="#c0c0c0" stroke-width="1.15"/>
<path d="M1156.1 712.8C1161.7 677.7 1222.7 633.4 1257.8 639" stroke="#c0c0c0" stroke-width="1.15"/>
<path d="M1257.8 639C1252.2 674.1 1191.2 718.4 1156.1 712.8" stroke="#c0c0c0" stroke-width="1.15"/>
<path d="M1161.4 640.7C1174.7 656.1 1171.6 699.4 1156.1 712.8" stroke="#c0c0c0" stroke-width="1.15"/>
<path d="M1156.1 712.8C1142.7 697.3 1145.9 654 1161.4 640.7" stroke="#c0c0c0" stroke-width="1.15"/>
<path d="M1229.9 672.5C1209.8 679.8 1168.7 660.7 1161.4 640.7" stroke="#c0c0c0" stroke-width="1.15"/>
<path d="M1161.4 640.7C1160.5 618.9 1191.8 585.1 1213.5 584.2" stroke="#c0c0c0" stroke-width="1.15"/>
<path d="M1148.2 662.3C1159.9 670.8 1164.6 701.1 1156.1 712.8" stroke="#c0c0c0" stroke-width="1.15"/>
<path d="M1264.4 767.6C1238.5 755.5 1217.8 698.4 1229.9 672.5" stroke="#c0c0c0" stroke-width="1.15"/>
<path d="M1229.9 672.5C1255.8 684.6 1276.5 741.7 1264.4 767.6" stroke="#c0c0c0" stroke-width="1.15"/>
<path d="M1264.4 767.6C1257 775.6 1233.9 776.3 1226 768.9" stroke="#c0c0c0" stroke-width="1.15"/>
<path d="M1264.4 767.6C1231.8 778.3 1166.8 745.4 1156.1 712.8" stroke="#c0c0c0" stroke-width="1.15"/>
<path d="M1229.9 672.5C1239.8 692.6 1224.4 737.4 1204.3 747.3" stroke="#c0c0c0" stroke-width="1.15"/>
<path d="M1204.3 747.3C1194.5 727.2 1209.8 682.3 1229.9 672.5" stroke="#c0c0c0" stroke-width="1.15"/>
<path d="M1289 621C1287.5 643.1 1252 674 1229.9 672.5" stroke="#c0c0c0" stroke-width="1.15"/>
<path d="M1229.9 672.5C1249.1 654.8 1304.4 656.9 1322.1 676.1" stroke="#c0c0c0" stroke-width="1.15"/>
<path d="M1322.1 676.1C1302.9 693.8 1247.6 691.6 1229.9 672.5" stroke="#c0c0c0" stroke-width="1.15"/>
<path d="M1257.8 639C1258.9 651.3 1242.2 671.4 1229.9 672.5" stroke="#c0c0c0" stroke-width="1.15"/>
<path d="M1229.9 672.5C1228.8 660.2 1245.5 640.1 1257.8 639" stroke="#c0c0c0" stroke-width="1.15"/>
<path d="M1156.1 712.8C1162.8 690 1207.1 665.8 1229.9 672.5" stroke="#c0c0c0" stroke-width="1.15"/>
<path d="M1229.9 672.5C1223.2 695.3 1178.9 719.5 1156.1 712.8" stroke="#c0c0c0" stroke-width="1.15"/>
<path d="M1156.1 712.8C1182 672.3 1281.6 650.2 1322.1 676.1" stroke="#c0c0c0" stroke-width="1.15"/>
<path d="M1322.1 676.1C1296.3 716.6 1196.7 738.7 1156.1 712.8" stroke="#c0c0c0" stroke-width="1.15"/>
<path d="M1213.5 584.2C1201.1 582.3 1185.3 560.6 1187.3 548.1" stroke="#c0c0c0" stroke-width="1.15"/>
<path d="M1148.6 582.9C1161.8 570.2 1200.8 571 1213.5 584.2" stroke="#c0c0c0" stroke-width="1.15"/>
<path d="M1119.4 611.8C1132.7 587.4 1189.2 570.9 1213.5 584.2" stroke="#c0c0c0" stroke-width="1.15"/>
<path d="M1100.3 660.3C1107.8 622.5 1175.7 576.8 1213.5 584.2" stroke="#c0c0c0" stroke-width="1.15"/>
<path d="M1166.6 570.8C1192.9 601.3 1186.6 686.5 1156.1 712.8" stroke="#c0c0c0" stroke-width="1.15"/>
<path d="M1213.5 584.2C1252.4 568 1335.1 602.1 1351.3 641" stroke="#c0c0c0" stroke-width="1.15"/>
<path d="M1229.9 672.5C1257.5 697.3 1261.6 775.8 1236.8 803.4" stroke="#c0c0c0" stroke-width="1.15"/>
<path d="M1121.7 752.2C1120.7 737.4 1141.3 713.8 1156.1 712.8" stroke="#c0c0c0" stroke-width="1.15"/>
<path d="M1289 621C1266.5 628.7 1221.3 606.7 1213.5 584.2" stroke="#c0c0c0" stroke-width="1.15"/>
<path d="M1289 621C1313.4 655.2 1298.6 743.2 1264.4 767.6" stroke="#c0c0c0" stroke-width="1.15"/>
<path d="M1229.9 672.5C1239.8 643.3 1298.5 614.3 1327.7 624.3" stroke="#c0c0c0" stroke-width="1.15"/>
<path d="M1213.5 584.2C1203.2 602.1 1160.9 613.6 1143 603.3" stroke="#c0c0c0" stroke-width="1.15"/>
<path d="M1119.4 611.8C1153.6 601.8 1220 638.2 1229.9 672.5" stroke="#c0c0c0" stroke-width="1.15"/>
<path d="M1229.9 672.5C1195.7 682.4 1129.3 646 1119.4 611.8" stroke="#c0c0c0" stroke-width="1.15"/>
<path d="M1213.5 584.2C1254.4 599.8 1292.4 684.4 1276.8 725.3" stroke="#c0c0c0" stroke-width="1.15"/>
<path d="M1213.5 584.2C1260.4 610.7 1290.9 720.8 1264.4 767.6" stroke="#c0c0c0" stroke-width="1.15"/>
<path d="M1264.4 767.6C1217.5 741.1 1187 631.1 1213.5 584.2" stroke="#c0c0c0" stroke-width="1.15"/>
<path d="M1213.5 584.2C1262.2 599.1 1313 694.3 1298.2 743" stroke="#c0c0c0" stroke-width="1.15"/>
<path d="M1289 621C1315.2 643.5 1320.7 716.8 1298.2 743" stroke="#c0c0c0" stroke-width="1.15"/>
<path d="M1229.9 672.5C1257.7 672.9 1298.6 715.3 1298.2 743" stroke="#c0c0c0" stroke-width="1.15"/>
<path d="M1183.7 773.8C1182.5 764.4 1194.9 748.5 1204.3 747.3" stroke="#c0c0c0" stroke-width="1.15"/>
<path d="M1213.5 584.2C1253.6 580.9 1318.8 636 1322.1 676.1" stroke="#c0c0c0" stroke-width="1.15"/>
<path d="M1289 621C1286.3 630.8 1267.7 641.6 1257.8 639" stroke="#c0c0c0" stroke-width="1.15"/>
<path d="M1213.5 584.2C1227.2 572.5 1265.4 575.4 1277.2 589.1" stroke="#c0c0c0" stroke-width="1.15"/>
<path d="M1161.4 640.7C1181.4 633.3 1222.6 652.4 1229.9 672.5" stroke="#c0c0c0" stroke-width="1.15"/>
<path d="M1100.3 660.3C1128.7 636.8 1206.4 644.1 1229.9 672.5" stroke="#c0c0c0" stroke-width="1.15"/>
<path d="M1229.9 672.5C1265.7 686.7 1298 761.7 1283.7 797.5" stroke="#c0c0c0" stroke-width="1.15"/>
<path d="M1226 768.9C1207.5 748.8 1209.8 691 1229.9 672.5" stroke="#c0c0c0" stroke-width="1.15"/>
<path d="M1213.5 584.2C1207.7 613.7 1154.7 649.1 1125.3 643.3" stroke="#c0c0c0" stroke-width="1.15"/>
<path d="M1235.5 549.1C1238.1 560.5 1224.9 581.6 1213.5 584.2" stroke="#c0c0c0" stroke-width="1.15"/>
<path d="M1289 621C1266.5 628.7 1221.3 606.7 1213.5 584.2" stroke="#a0a0a0" stroke-width="1.8"/>
<path d="M1229.9 672.5C1257.2 664.8 1309.5 694.1 1317.2 721.4" stroke="#a0a0a0" stroke-width="2.6"/>
<path d="M1264.4 767.6C1238.5 755.5 1217.8 698.4 1229.9 672.5" stroke="#a0a0a0" stroke-width="2.6"/>
<path d="M1213.5 584.2C1227.8 621.4 1193.3 698.6 1156.1 712.8" stroke="#a0a0a0" stroke-width="1.8"/>
</g>
<g stroke="#000" stroke-width="1.5">
<circle cx="1187.3" cy="548.1" r="4.7" fill="#f8e820"/>
<circle cx="1235.5" cy="549.1" r="4.7" fill="#fff000"/>
<circle cx="1254.9" cy="562.2" r="4.7" fill="#800a6c"/>
<circle cx="1277.5" cy="564.5" r="4.7" fill="#5a0a96"/>
<circle cx="1166.6" cy="570.8" r="4.7" fill="#900a60"/>
<circle cx="1148.6" cy="582.9" r="4.7" fill="#40dcc0"/>
<circle cx="1213.5" cy="584.2" r="8.1" fill="#a8183c"/>
<circle cx="1249.9" cy="579.6" r="4.7" fill="#700a8a"/>
<circle cx="1294.9" cy="580" r="4.7" fill="#3a0ab4"/>
<circle cx="1277.2" cy="589.1" r="4.7" fill="#5008a8"/>
<circle cx="1304.7" cy="594.7" r="4.7" fill="#2a0ac8"/>
<circle cx="1326.4" cy="594.1" r="4.7" fill="#1e7a3c"/>
<circle cx="1143" cy="603.3" r="4.7" fill="#4a8070"/>
<circle cx="1161.4" cy="610.5" r="4.7" fill="#2e8050"/>
<circle cx="1119.4" cy="611.8" r="4.8" fill="#8a80c0"/>
<circle cx="1257.8" cy="600.3" r="4.7" fill="#90e010"/>
<circle cx="1241.1" cy="623.6" r="4.7" fill="#40e8e0"/>
<circle cx="1289" cy="621" r="6.1" fill="#e02010"/>
<circle cx="1327.7" cy="624.3" r="5.1" fill="#2c10c8"/>
<circle cx="1351.3" cy="641" r="4.7" fill="#f0d848"/>
<circle cx="1125.3" cy="643.3" r="4.7" fill="#d01820"/>
<circle cx="1161.4" cy="640.7" r="5.5" fill="#c01830"/>
<circle cx="1257.8" cy="639" r="4.7" fill="#a0a810"/>
<circle cx="1191.9" cy="655.4" r="4.8" fill="#6c8898"/>
<circle cx="1100.3" cy="660.3" r="4.8" fill="#c8b830"/>
<circle cx="1148.2" cy="662.3" r="4.7" fill="#e8e020"/>
<circle cx="1229.9" cy="672.5" r="9.7" fill="#a01450"/>
<circle cx="1322.1" cy="676.1" r="6.8" fill="#38c098"/>
<circle cx="1358.8" cy="676.1" r="4.7" fill="#1e8a3c"/>
<circle cx="1156.1" cy="712.8" r="8.1" fill="#80ff20"/>
<circle cx="1095.4" cy="711.8" r="4.7" fill="#a080d8"/>
<circle cx="1342.1" cy="707.2" r="4.7" fill="#4428b0"/>
<circle cx="1294.6" cy="711.8" r="4.7" fill="#f0c070"/>
<circle cx="1317.2" cy="721.4" r="4.7" fill="#20a060"/>
<circle cx="1339.8" cy="725.3" r="4.7" fill="#f0b0a0"/>
<circle cx="1276.8" cy="725.3" r="4.7" fill="#90c818"/>
<circle cx="1298.2" cy="743" r="5.1" fill="#604898"/>
<circle cx="1328" cy="746.3" r="4.7" fill="#30b888"/>
<circle cx="1174.5" cy="740.4" r="4.7" fill="#e03010"/>
<circle cx="1204.3" cy="747.3" r="5.1" fill="#b89810"/>
<circle cx="1121.7" cy="752.2" r="4.7" fill="#b060e0"/>
<circle cx="1148.2" cy="764.7" r="4.7" fill="#e05010"/>
<circle cx="1183.7" cy="773.8" r="4.7" fill="#c060ff"/>
<circle cx="1226" cy="768.9" r="4.7" fill="#a89060"/>
<circle cx="1264.4" cy="767.6" r="6.4" fill="#d06808"/>
<circle cx="1308.3" cy="770.6" r="4.7" fill="#e090c0"/>
<circle cx="1162.3" cy="788.9" r="4.7" fill="#c08010"/>
<circle cx="1198.8" cy="796.2" r="4.7" fill="#b0a040"/>
<circle cx="1217.8" cy="788.3" r="4.7" fill="#806878"/>
<circle cx="1236.8" cy="803.4" r="4.7" fill="#40f0f8"/>
<circle cx="1283.7" cy="797.5" r="4.7" fill="#d070e8"/>
</g></g>
</svg></body></html>
